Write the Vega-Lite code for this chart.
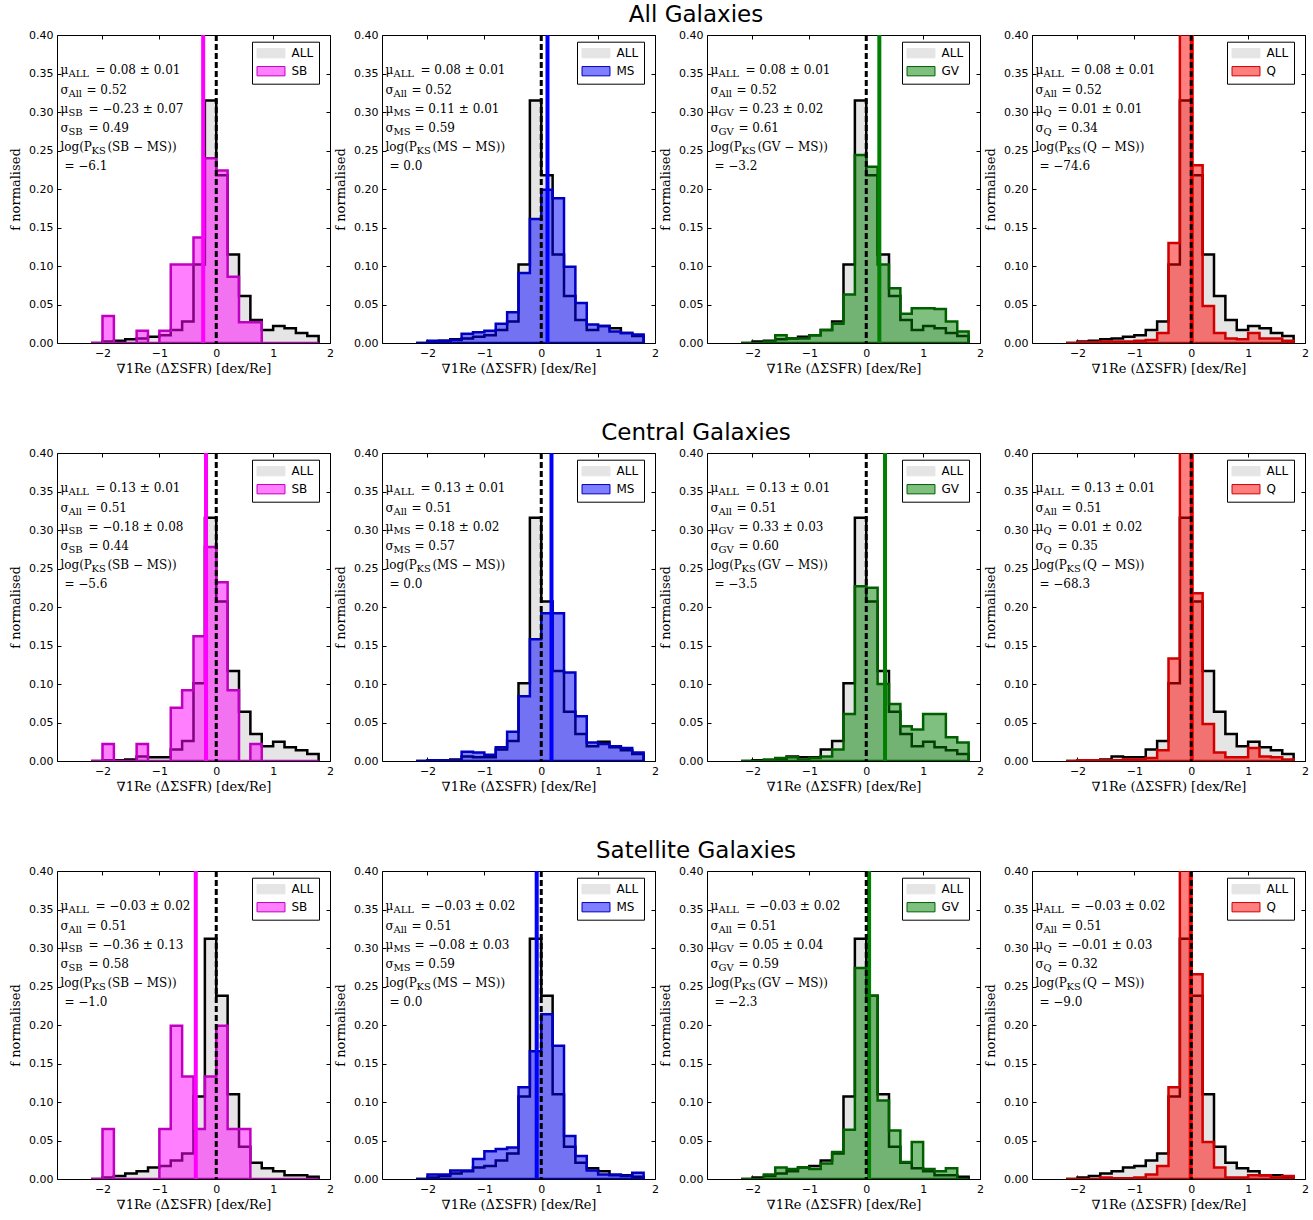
{
"$schema": "https://vega.github.io/schema/vega-lite/v6.json",
"padding": {"left": 9, "top": 3, "right": 5, "bottom": 5},
"datasets": {
"h": [
{"g":"A","s":"ALL","x":-2.2,"v":0},{"g":"A","s":"ALL","x":-2,"v":0.002},{"g":"A","s":"ALL","x":-1.8,"v":0.003},{"g":"A","s":"ALL","x":-1.6,"v":0.005},{"g":"A","s":"ALL","x":-1.4,"v":0.006},{"g":"A","s":"ALL","x":-1.2,"v":0.008},{"g":"A","s":"ALL","x":-1,"v":0.010},{"g":"A","s":"ALL","x":-0.8,"v":0.017},{"g":"A","s":"ALL","x":-0.6,"v":0.028},{"g":"A","s":"ALL","x":-0.4,"v":0.102},{"g":"A","s":"ALL","x":-0.2,"v":0.315},{"g":"A","s":"ALL","x":0,"v":0.218},{"g":"A","s":"ALL","x":0.2,"v":0.115},{"g":"A","s":"ALL","x":0.4,"v":0.061},{"g":"A","s":"ALL","x":0.6,"v":0.030},{"g":"A","s":"ALL","x":0.8,"v":0.017},{"g":"A","s":"ALL","x":1,"v":0.022},{"g":"A","s":"ALL","x":1.2,"v":0.019},{"g":"A","s":"ALL","x":1.4,"v":0.013},{"g":"A","s":"ALL","x":1.6,"v":0.009},{"g":"A","s":"ALL","x":1.8,"v":0},
{"g":"A","s":"SB","x":-2.2,"v":0},{"g":"A","s":"SB","x":-2,"v":0.035},{"g":"A","s":"SB","x":-1.8,"v":0},{"g":"A","s":"SB","x":-1.6,"v":0},{"g":"A","s":"SB","x":-1.4,"v":0.016},{"g":"A","s":"SB","x":-1.2,"v":0},{"g":"A","s":"SB","x":-1,"v":0.016},{"g":"A","s":"SB","x":-0.8,"v":0.102},{"g":"A","s":"SB","x":-0.6,"v":0.102},{"g":"A","s":"SB","x":-0.4,"v":0.137},{"g":"A","s":"SB","x":-0.2,"v":0.240},{"g":"A","s":"SB","x":0,"v":0.224},{"g":"A","s":"SB","x":0.2,"v":0.086},{"g":"A","s":"SB","x":0.4,"v":0.027},{"g":"A","s":"SB","x":0.6,"v":0.027},{"g":"A","s":"SB","x":0.8,"v":0},{"g":"A","s":"SB","x":1,"v":0},{"g":"A","s":"SB","x":1.2,"v":0},{"g":"A","s":"SB","x":1.4,"v":0},{"g":"A","s":"SB","x":1.6,"v":0},{"g":"A","s":"SB","x":1.8,"v":0},
{"g":"A","s":"MS","x":-2.2,"v":0},{"g":"A","s":"MS","x":-2,"v":0.003},{"g":"A","s":"MS","x":-1.8,"v":0.003},{"g":"A","s":"MS","x":-1.6,"v":0.004},{"g":"A","s":"MS","x":-1.4,"v":0.012},{"g":"A","s":"MS","x":-1.2,"v":0.014},{"g":"A","s":"MS","x":-1,"v":0.016},{"g":"A","s":"MS","x":-0.8,"v":0.025},{"g":"A","s":"MS","x":-0.6,"v":0.040},{"g":"A","s":"MS","x":-0.4,"v":0.091},{"g":"A","s":"MS","x":-0.2,"v":0.161},{"g":"A","s":"MS","x":0,"v":0.199},{"g":"A","s":"MS","x":0.2,"v":0.188},{"g":"A","s":"MS","x":0.4,"v":0.099},{"g":"A","s":"MS","x":0.6,"v":0.052},{"g":"A","s":"MS","x":0.8,"v":0.024},{"g":"A","s":"MS","x":1,"v":0.022},{"g":"A","s":"MS","x":1.2,"v":0.015},{"g":"A","s":"MS","x":1.4,"v":0.013},{"g":"A","s":"MS","x":1.6,"v":0.011},{"g":"A","s":"MS","x":1.8,"v":0},
{"g":"A","s":"GV","x":-2.2,"v":0},{"g":"A","s":"GV","x":-2,"v":0},{"g":"A","s":"GV","x":-1.8,"v":0.002},{"g":"A","s":"GV","x":-1.6,"v":0.010},{"g":"A","s":"GV","x":-1.4,"v":0.006},{"g":"A","s":"GV","x":-1.2,"v":0.006},{"g":"A","s":"GV","x":-1,"v":0.010},{"g":"A","s":"GV","x":-0.8,"v":0.017},{"g":"A","s":"GV","x":-0.6,"v":0.025},{"g":"A","s":"GV","x":-0.4,"v":0.063},{"g":"A","s":"GV","x":-0.2,"v":0.244},{"g":"A","s":"GV","x":0,"v":0.229},{"g":"A","s":"GV","x":0.2,"v":0.102},{"g":"A","s":"GV","x":0.4,"v":0.071},{"g":"A","s":"GV","x":0.6,"v":0.038},{"g":"A","s":"GV","x":0.8,"v":0.045},{"g":"A","s":"GV","x":1,"v":0.045},{"g":"A","s":"GV","x":1.2,"v":0.044},{"g":"A","s":"GV","x":1.4,"v":0.028},{"g":"A","s":"GV","x":1.6,"v":0.015},{"g":"A","s":"GV","x":1.8,"v":0},
{"g":"A","s":"Q","x":-2.2,"v":0},{"g":"A","s":"Q","x":-2,"v":0.001},{"g":"A","s":"Q","x":-1.8,"v":0.001},{"g":"A","s":"Q","x":-1.6,"v":0.002},{"g":"A","s":"Q","x":-1.4,"v":0.002},{"g":"A","s":"Q","x":-1.2,"v":0.002},{"g":"A","s":"Q","x":-1,"v":0.003},{"g":"A","s":"Q","x":-0.8,"v":0.004},{"g":"A","s":"Q","x":-0.6,"v":0.013},{"g":"A","s":"Q","x":-0.4,"v":0.130},{"g":"A","s":"Q","x":-0.2,"v":0.550},{"g":"A","s":"Q","x":0,"v":0.231},{"g":"A","s":"Q","x":0.2,"v":0.048},{"g":"A","s":"Q","x":0.4,"v":0.013},{"g":"A","s":"Q","x":0.6,"v":0.006},{"g":"A","s":"Q","x":0.8,"v":0.005},{"g":"A","s":"Q","x":1,"v":0.013},{"g":"A","s":"Q","x":1.2,"v":0.006},{"g":"A","s":"Q","x":1.4,"v":0.006},{"g":"A","s":"Q","x":1.6,"v":0.003},{"g":"A","s":"Q","x":1.8,"v":0},
{"g":"B","s":"ALL","x":-2.2,"v":0},{"g":"B","s":"ALL","x":-2,"v":0.001},{"g":"B","s":"ALL","x":-1.8,"v":0.001},{"g":"B","s":"ALL","x":-1.6,"v":0.002},{"g":"B","s":"ALL","x":-1.4,"v":0.006},{"g":"B","s":"ALL","x":-1.2,"v":0.005},{"g":"B","s":"ALL","x":-1,"v":0.005},{"g":"B","s":"ALL","x":-0.8,"v":0.015},{"g":"B","s":"ALL","x":-0.6,"v":0.026},{"g":"B","s":"ALL","x":-0.4,"v":0.101},{"g":"B","s":"ALL","x":-0.2,"v":0.316},{"g":"B","s":"ALL","x":0,"v":0.207},{"g":"B","s":"ALL","x":0.2,"v":0.117},{"g":"B","s":"ALL","x":0.4,"v":0.064},{"g":"B","s":"ALL","x":0.6,"v":0.035},{"g":"B","s":"ALL","x":0.8,"v":0.019},{"g":"B","s":"ALL","x":1,"v":0.025},{"g":"B","s":"ALL","x":1.2,"v":0.018},{"g":"B","s":"ALL","x":1.4,"v":0.014},{"g":"B","s":"ALL","x":1.6,"v":0.009},{"g":"B","s":"ALL","x":1.8,"v":0},
{"g":"B","s":"SB","x":-2.2,"v":0},{"g":"B","s":"SB","x":-2,"v":0.022},{"g":"B","s":"SB","x":-1.8,"v":0},{"g":"B","s":"SB","x":-1.6,"v":0},{"g":"B","s":"SB","x":-1.4,"v":0.022},{"g":"B","s":"SB","x":-1.2,"v":0},{"g":"B","s":"SB","x":-1,"v":0},{"g":"B","s":"SB","x":-0.8,"v":0.069},{"g":"B","s":"SB","x":-0.6,"v":0.092},{"g":"B","s":"SB","x":-0.4,"v":0.162},{"g":"B","s":"SB","x":-0.2,"v":0.278},{"g":"B","s":"SB","x":0,"v":0.232},{"g":"B","s":"SB","x":0.2,"v":0.092},{"g":"B","s":"SB","x":0.4,"v":0},{"g":"B","s":"SB","x":0.6,"v":0.022},{"g":"B","s":"SB","x":0.8,"v":0},{"g":"B","s":"SB","x":1,"v":0},{"g":"B","s":"SB","x":1.2,"v":0},{"g":"B","s":"SB","x":1.4,"v":0},{"g":"B","s":"SB","x":1.6,"v":0},{"g":"B","s":"SB","x":1.8,"v":0},
{"g":"B","s":"MS","x":-2.2,"v":0},{"g":"B","s":"MS","x":-2,"v":0.001},{"g":"B","s":"MS","x":-1.8,"v":0.001},{"g":"B","s":"MS","x":-1.6,"v":0.001},{"g":"B","s":"MS","x":-1.4,"v":0.012},{"g":"B","s":"MS","x":-1.2,"v":0.011},{"g":"B","s":"MS","x":-1,"v":0.008},{"g":"B","s":"MS","x":-0.8,"v":0.018},{"g":"B","s":"MS","x":-0.6,"v":0.038},{"g":"B","s":"MS","x":-0.4,"v":0.084},{"g":"B","s":"MS","x":-0.2,"v":0.158},{"g":"B","s":"MS","x":0,"v":0.192},{"g":"B","s":"MS","x":0.2,"v":0.192},{"g":"B","s":"MS","x":0.4,"v":0.115},{"g":"B","s":"MS","x":0.6,"v":0.058},{"g":"B","s":"MS","x":0.8,"v":0.024},{"g":"B","s":"MS","x":1,"v":0.022},{"g":"B","s":"MS","x":1.2,"v":0.019},{"g":"B","s":"MS","x":1.4,"v":0.017},{"g":"B","s":"MS","x":1.6,"v":0.011},{"g":"B","s":"MS","x":1.8,"v":0},
{"g":"B","s":"GV","x":-2.2,"v":0},{"g":"B","s":"GV","x":-2,"v":0},{"g":"B","s":"GV","x":-1.8,"v":0.002},{"g":"B","s":"GV","x":-1.6,"v":0.004},{"g":"B","s":"GV","x":-1.4,"v":0.005},{"g":"B","s":"GV","x":-1.2,"v":0.002},{"g":"B","s":"GV","x":-1,"v":0.004},{"g":"B","s":"GV","x":-0.8,"v":0.006},{"g":"B","s":"GV","x":-0.6,"v":0.015},{"g":"B","s":"GV","x":-0.4,"v":0.061},{"g":"B","s":"GV","x":-0.2,"v":0.227},{"g":"B","s":"GV","x":0,"v":0.225},{"g":"B","s":"GV","x":0.2,"v":0.100},{"g":"B","s":"GV","x":0.4,"v":0.074},{"g":"B","s":"GV","x":0.6,"v":0.045},{"g":"B","s":"GV","x":0.8,"v":0.041},{"g":"B","s":"GV","x":1,"v":0.061},{"g":"B","s":"GV","x":1.2,"v":0.061},{"g":"B","s":"GV","x":1.4,"v":0.031},{"g":"B","s":"GV","x":1.6,"v":0.024},{"g":"B","s":"GV","x":1.8,"v":0},
{"g":"B","s":"Q","x":-2.2,"v":0},{"g":"B","s":"Q","x":-2,"v":0.001},{"g":"B","s":"Q","x":-1.8,"v":0.001},{"g":"B","s":"Q","x":-1.6,"v":0.001},{"g":"B","s":"Q","x":-1.4,"v":0.001},{"g":"B","s":"Q","x":-1.2,"v":0.002},{"g":"B","s":"Q","x":-1,"v":0.002},{"g":"B","s":"Q","x":-0.8,"v":0.004},{"g":"B","s":"Q","x":-0.6,"v":0.014},{"g":"B","s":"Q","x":-0.4,"v":0.133},{"g":"B","s":"Q","x":-0.2,"v":0.520},{"g":"B","s":"Q","x":0,"v":0.218},{"g":"B","s":"Q","x":0.2,"v":0.048},{"g":"B","s":"Q","x":0.4,"v":0.011},{"g":"B","s":"Q","x":0.6,"v":0.005},{"g":"B","s":"Q","x":0.8,"v":0.005},{"g":"B","s":"Q","x":1,"v":0.017},{"g":"B","s":"Q","x":1.2,"v":0.006},{"g":"B","s":"Q","x":1.4,"v":0.005},{"g":"B","s":"Q","x":1.6,"v":0.002},{"g":"B","s":"Q","x":1.8,"v":0},
{"g":"C","s":"ALL","x":-2.2,"v":0},{"g":"C","s":"ALL","x":-2,"v":0.002},{"g":"C","s":"ALL","x":-1.8,"v":0.004},{"g":"C","s":"ALL","x":-1.6,"v":0.007},{"g":"C","s":"ALL","x":-1.4,"v":0.010},{"g":"C","s":"ALL","x":-1.2,"v":0.015},{"g":"C","s":"ALL","x":-1,"v":0.017},{"g":"C","s":"ALL","x":-0.8,"v":0.024},{"g":"C","s":"ALL","x":-0.6,"v":0.033},{"g":"C","s":"ALL","x":-0.4,"v":0.107},{"g":"C","s":"ALL","x":-0.2,"v":0.312},{"g":"C","s":"ALL","x":0,"v":0.238},{"g":"C","s":"ALL","x":0.2,"v":0.110},{"g":"C","s":"ALL","x":0.4,"v":0.042},{"g":"C","s":"ALL","x":0.6,"v":0.021},{"g":"C","s":"ALL","x":0.8,"v":0.014},{"g":"C","s":"ALL","x":1,"v":0.010},{"g":"C","s":"ALL","x":1.2,"v":0.005},{"g":"C","s":"ALL","x":1.4,"v":0.005},{"g":"C","s":"ALL","x":1.6,"v":0.003},{"g":"C","s":"ALL","x":1.8,"v":0},
{"g":"C","s":"SB","x":-2.2,"v":0},{"g":"C","s":"SB","x":-2,"v":0.065},{"g":"C","s":"SB","x":-1.8,"v":0},{"g":"C","s":"SB","x":-1.6,"v":0},{"g":"C","s":"SB","x":-1.4,"v":0},{"g":"C","s":"SB","x":-1.2,"v":0},{"g":"C","s":"SB","x":-1,"v":0.065},{"g":"C","s":"SB","x":-0.8,"v":0.199},{"g":"C","s":"SB","x":-0.6,"v":0.133},{"g":"C","s":"SB","x":-0.4,"v":0.065},{"g":"C","s":"SB","x":-0.2,"v":0.133},{"g":"C","s":"SB","x":0,"v":0.199},{"g":"C","s":"SB","x":0.2,"v":0.065},{"g":"C","s":"SB","x":0.4,"v":0.065},{"g":"C","s":"SB","x":0.6,"v":0},{"g":"C","s":"SB","x":0.8,"v":0},{"g":"C","s":"SB","x":1,"v":0},{"g":"C","s":"SB","x":1.2,"v":0},{"g":"C","s":"SB","x":1.4,"v":0},{"g":"C","s":"SB","x":1.6,"v":0},{"g":"C","s":"SB","x":1.8,"v":0},
{"g":"C","s":"MS","x":-2.2,"v":0},{"g":"C","s":"MS","x":-2,"v":0.006},{"g":"C","s":"MS","x":-1.8,"v":0.006},{"g":"C","s":"MS","x":-1.6,"v":0.011},{"g":"C","s":"MS","x":-1.4,"v":0.011},{"g":"C","s":"MS","x":-1.2,"v":0.026},{"g":"C","s":"MS","x":-1,"v":0.036},{"g":"C","s":"MS","x":-0.8,"v":0.039},{"g":"C","s":"MS","x":-0.6,"v":0.041},{"g":"C","s":"MS","x":-0.4,"v":0.119},{"g":"C","s":"MS","x":-0.2,"v":0.166},{"g":"C","s":"MS","x":0,"v":0.214},{"g":"C","s":"MS","x":0.2,"v":0.173},{"g":"C","s":"MS","x":0.4,"v":0.056},{"g":"C","s":"MS","x":0.6,"v":0.030},{"g":"C","s":"MS","x":0.8,"v":0.011},{"g":"C","s":"MS","x":1,"v":0.006},{"g":"C","s":"MS","x":1.2,"v":0.006},{"g":"C","s":"MS","x":1.4,"v":0.004},{"g":"C","s":"MS","x":1.6,"v":0.008},{"g":"C","s":"MS","x":1.8,"v":0},
{"g":"C","s":"GV","x":-2.2,"v":0},{"g":"C","s":"GV","x":-2,"v":0},{"g":"C","s":"GV","x":-1.8,"v":0.006},{"g":"C","s":"GV","x":-1.6,"v":0.015},{"g":"C","s":"GV","x":-1.4,"v":0.013},{"g":"C","s":"GV","x":-1.2,"v":0.015},{"g":"C","s":"GV","x":-1,"v":0.013},{"g":"C","s":"GV","x":-0.8,"v":0.020},{"g":"C","s":"GV","x":-0.6,"v":0.035},{"g":"C","s":"GV","x":-0.4,"v":0.064},{"g":"C","s":"GV","x":-0.2,"v":0.274},{"g":"C","s":"GV","x":0,"v":0.238},{"g":"C","s":"GV","x":0.2,"v":0.102},{"g":"C","s":"GV","x":0.4,"v":0.063},{"g":"C","s":"GV","x":0.6,"v":0.022},{"g":"C","s":"GV","x":0.8,"v":0.048},{"g":"C","s":"GV","x":1,"v":0.013},{"g":"C","s":"GV","x":1.2,"v":0.010},{"g":"C","s":"GV","x":1.4,"v":0.014},{"g":"C","s":"GV","x":1.6,"v":0},{"g":"C","s":"GV","x":1.8,"v":0},
{"g":"C","s":"Q","x":-2.2,"v":0},{"g":"C","s":"Q","x":-2,"v":0},{"g":"C","s":"Q","x":-1.8,"v":0},{"g":"C","s":"Q","x":-1.6,"v":0.002},{"g":"C","s":"Q","x":-1.4,"v":0.001},{"g":"C","s":"Q","x":-1.2,"v":0.001},{"g":"C","s":"Q","x":-1,"v":0.002},{"g":"C","s":"Q","x":-0.8,"v":0.006},{"g":"C","s":"Q","x":-0.6,"v":0.017},{"g":"C","s":"Q","x":-0.4,"v":0.119},{"g":"C","s":"Q","x":-0.2,"v":0.550},{"g":"C","s":"Q","x":0,"v":0.266},{"g":"C","s":"Q","x":0.2,"v":0.048},{"g":"C","s":"Q","x":0.4,"v":0.015},{"g":"C","s":"Q","x":0.6,"v":0.002},{"g":"C","s":"Q","x":0.8,"v":0.002},{"g":"C","s":"Q","x":1,"v":0.005},{"g":"C","s":"Q","x":1.2,"v":0.005},{"g":"C","s":"Q","x":1.4,"v":0.002},{"g":"C","s":"Q","x":1.6,"v":0.004},{"g":"C","s":"Q","x":1.8,"v":0}
],
"m": [
{"g":"A","s":"SB","m":-0.23},{"g":"A","s":"MS","m":0.11},{"g":"A","s":"GV","m":0.23},{"g":"A","s":"Q","m":0.01},
{"g":"B","s":"SB","m":-0.18},{"g":"B","s":"MS","m":0.18},{"g":"B","s":"GV","m":0.33},{"g":"B","s":"Q","m":0.01},
{"g":"C","s":"SB","m":-0.36},{"g":"C","s":"MS","m":-0.08},{"g":"C","s":"GV","m":0.05},{"g":"C","s":"Q","m":-0.01}
],
"t": [
{"c":"p","k":0,"txt":"μ"},{"c":"p","k":1,"txt":"σ"},{"c":"p","k":2,"txt":"μ"},{"c":"p","k":3,"txt":"σ"},{"c":"p","k":4,"txt":"log(P"},
{"c":"q","k":4,"txt":"KS"},
{"c":"s0","k":0,"txt":"ALL"},{"c":"s0","k":1,"txt":"All"},
{"c":"s","s":"SB","k":2,"txt":"SB"},{"c":"s","s":"SB","k":3,"txt":"SB"},
{"c":"s","s":"MS","k":2,"txt":"MS"},{"c":"s","s":"MS","k":3,"txt":"MS"},
{"c":"s","s":"GV","k":2,"txt":"GV"},{"c":"s","s":"GV","k":3,"txt":"GV"},
{"c":"s","s":"Q","k":2,"txt":"Q"},{"c":"s","s":"Q","k":3,"txt":"Q"},
{"c":"a","g":"A","k":0,"txt":"= 0.08 ± 0.01"},{"c":"b","g":"A","k":1,"txt":"= 0.52"},
{"c":"a","g":"B","k":0,"txt":"= 0.13 ± 0.01"},{"c":"b","g":"B","k":1,"txt":"= 0.51"},
{"c":"a","g":"C","k":0,"txt":"= −0.03 ± 0.02"},{"c":"b","g":"C","k":1,"txt":"= 0.51"},
{"c":"f","s":"SB","k":4,"txt":"(SB − MS))"},{"c":"f","s":"MS","k":4,"txt":"(MS − MS))"},{"c":"f","s":"GV","k":4,"txt":"(GV − MS))"},{"c":"f","s":"Q","k":4,"txt":"(Q − MS))"},
{"c":"d","g":"A","s":"SB","k":2,"txt":"= −0.23 ± 0.07"},{"c":"d","g":"A","s":"SB","k":3,"txt":"= 0.49"},{"c":"e","g":"A","s":"SB","k":5,"txt":"= −6.1"},
{"c":"d","g":"A","s":"MS","k":2,"txt":"= 0.11 ± 0.01"},{"c":"d","g":"A","s":"MS","k":3,"txt":"= 0.59"},{"c":"e","g":"A","s":"MS","k":5,"txt":"= 0.0"},
{"c":"d","g":"A","s":"GV","k":2,"txt":"= 0.23 ± 0.02"},{"c":"d","g":"A","s":"GV","k":3,"txt":"= 0.61"},{"c":"e","g":"A","s":"GV","k":5,"txt":"= −3.2"},
{"c":"d","g":"A","s":"Q","k":2,"txt":"= 0.01 ± 0.01"},{"c":"d","g":"A","s":"Q","k":3,"txt":"= 0.34"},{"c":"e","g":"A","s":"Q","k":5,"txt":"= −74.6"},
{"c":"d","g":"B","s":"SB","k":2,"txt":"= −0.18 ± 0.08"},{"c":"d","g":"B","s":"SB","k":3,"txt":"= 0.44"},{"c":"e","g":"B","s":"SB","k":5,"txt":"= −5.6"},
{"c":"d","g":"B","s":"MS","k":2,"txt":"= 0.18 ± 0.02"},{"c":"d","g":"B","s":"MS","k":3,"txt":"= 0.57"},{"c":"e","g":"B","s":"MS","k":5,"txt":"= 0.0"},
{"c":"d","g":"B","s":"GV","k":2,"txt":"= 0.33 ± 0.03"},{"c":"d","g":"B","s":"GV","k":3,"txt":"= 0.60"},{"c":"e","g":"B","s":"GV","k":5,"txt":"= −3.5"},
{"c":"d","g":"B","s":"Q","k":2,"txt":"= 0.01 ± 0.02"},{"c":"d","g":"B","s":"Q","k":3,"txt":"= 0.35"},{"c":"e","g":"B","s":"Q","k":5,"txt":"= −68.3"},
{"c":"d","g":"C","s":"SB","k":2,"txt":"= −0.36 ± 0.13"},{"c":"d","g":"C","s":"SB","k":3,"txt":"= 0.58"},{"c":"e","g":"C","s":"SB","k":5,"txt":"= −1.0"},
{"c":"d","g":"C","s":"MS","k":2,"txt":"= −0.08 ± 0.03"},{"c":"d","g":"C","s":"MS","k":3,"txt":"= 0.59"},{"c":"e","g":"C","s":"MS","k":5,"txt":"= 0.0"},
{"c":"d","g":"C","s":"GV","k":2,"txt":"= 0.05 ± 0.04"},{"c":"d","g":"C","s":"GV","k":3,"txt":"= 0.59"},{"c":"e","g":"C","s":"GV","k":5,"txt":"= −2.3"},
{"c":"d","g":"C","s":"Q","k":2,"txt":"= −0.01 ± 0.03"},{"c":"d","g":"C","s":"Q","k":3,"txt":"= 0.32"},{"c":"e","g":"C","s":"Q","k":5,"txt":"= −9.0"}
]
},
"vconcat": [
{"title": {"text": "All Galaxies", "anchor": "middle", "frame": "bounds", "offset": 2, "dx": 37},
 "spacing": 52, "bounds": "flush",
 "resolve": {"scale": {"fill": "independent", "stroke": "independent"}, "legend": {"fill": "independent", "stroke": "independent"}},
 "hconcat": [
{"width":273,"height":308,"resolve":{"axis":{"x":"independent","y":"independent"},"scale":{"y":"independent"}},"layer":[
{"data":{"name":"h"},"transform":[{"filter":"datum.g==='A'&&datum.s==='ALL'"}],"mark":{"type":"area","interpolate":"step-after","clip":true,"strokeWidth":2},"encoding":{"x":{"field":"x","type":"quantitative","scale":{"domain":[-2.8,2],"nice":false,"zero":false},"axis":{"orient":"bottom","values":[-2,-1,0,1,2],"title":"∇1Re (ΔΣSFR) [dex/Re]"}},"y":{"field":"v","type":"quantitative","stack":null,"scale":{"domain":[0,0.4],"nice":false},"axis":{"orient":"left","values":[0,0.05,0.1,0.15,0.2,0.25,0.3,0.35,0.4],"format":".2f","title":"f normalised"}},"fill":{"field":"s","type":"nominal","scale":{"domain":["ALL","SB"],"range":["#e5e5e5","rgba(255,0,255,0.5)"]},"legend":{"title":null,"orient":"none","legendX":195,"legendY":6.7,"symbolType":"M-2.33,-0.775H2.33V0.775H-2.33Z"}},"stroke":{"field":"s","type":"nominal","scale":{"domain":["ALL","SB"],"range":["#e5e5e5","#c000c0"]},"legend":{"title":null,"orient":"none","legendX":195,"legendY":6.7,"symbolType":"M-2.33,-0.775H2.33V0.775H-2.33Z"}}}},
{"data":{"name":"h"},"transform":[{"filter":"datum.g==='A'&&datum.s==='ALL'"}],"mark":{"type":"line","interpolate":"step-after","clip":true,"color":"black","strokeWidth":2.5},"encoding":{"x":{"field":"x","type":"quantitative","axis":null},"y":{"field":"v","type":"quantitative","scale":{"domain":[0,0.4],"nice":false},"axis":{"orient":"right","values":[0,0.05,0.1,0.15,0.2,0.25,0.3,0.35,0.4],"labels":false,"title":null}}}},
{"data":{"name":"h"},"transform":[{"filter":"datum.g==='A'&&datum.s==='SB'"}],"mark":{"type":"area","interpolate":"step-after","clip":true,"strokeWidth":2.5},"encoding":{"x":{"field":"x","type":"quantitative","axis":null},"y":{"field":"v","type":"quantitative","stack":null,"scale":{"domain":[0,0.4],"nice":false},"axis":null},"fill":{"field":"s","type":"nominal"},"stroke":{"field":"s","type":"nominal"}}},
{"data":{"name":"m"},"transform":[{"filter":"datum.g==='A'&&datum.s==='SB'"}],"mark":{"type":"rule","color":"#ff00ff","strokeWidth":4},"encoding":{"x":{"field":"m","type":"quantitative","axis":null}}},
{"data":{"name":"m"},"transform":[{"filter":"datum.g==='A'&&datum.s==='SB'"}],"mark":{"type":"rule","color":"black","strokeWidth":3,"strokeDash":[6,3]},"encoding":{"x":{"datum":0,"axis":{"orient":"top","values":[-2,-1,0,1,2],"labels":false,"title":null}}}},
{"data":{"name":"t"},"transform":[{"filter":"datum.c==='p'"}],"mark":{"type":"text"},"encoding":{"x":{"datum":-2.74,"axis":null},"y":{"field":"k","type":"quantitative","scale":{"domain":[-2.047,13.995],"reverse":true,"nice":false,"zero":false},"axis":null},"text":{"field":"txt"}}},
{"data":{"name":"t"},"transform":[{"filter":"datum.c==='s0'||(datum.c==='s'&&datum.s==='SB')"}],"mark":{"type":"text","fontSize":10,"dx":8,"dy":3},"encoding":{"x":{"datum":-2.74,"axis":null},"y":{"field":"k","type":"quantitative","scale":{"domain":[-2.047,13.995],"reverse":true,"nice":false,"zero":false},"axis":null},"text":{"field":"txt"}}},
{"data":{"name":"t"},"transform":[{"filter":"datum.c==='q'"}],"mark":{"type":"text","fontSize":10,"dx":31,"dy":3},"encoding":{"x":{"datum":-2.74,"axis":null},"y":{"field":"k","type":"quantitative","scale":{"domain":[-2.047,13.995],"reverse":true,"nice":false,"zero":false},"axis":null},"text":{"field":"txt"}}},
{"data":{"name":"t"},"transform":[{"filter":"datum.c==='a'&&datum.g==='A'"}],"mark":{"type":"text","dx":35},"encoding":{"x":{"datum":-2.74,"axis":null},"y":{"field":"k","type":"quantitative","scale":{"domain":[-2.047,13.995],"reverse":true,"nice":false,"zero":false},"axis":null},"text":{"field":"txt"}}},
{"data":{"name":"t"},"transform":[{"filter":"datum.c==='b'&&datum.g==='A'"}],"mark":{"type":"text","dx":26},"encoding":{"x":{"datum":-2.74,"axis":null},"y":{"field":"k","type":"quantitative","scale":{"domain":[-2.047,13.995],"reverse":true,"nice":false,"zero":false},"axis":null},"text":{"field":"txt"}}},
{"data":{"name":"t"},"transform":[{"filter":"datum.c==='d'&&datum.g==='A'&&datum.s==='SB'"}],"mark":{"type":"text","dx":28},"encoding":{"x":{"datum":-2.74,"axis":null},"y":{"field":"k","type":"quantitative","scale":{"domain":[-2.047,13.995],"reverse":true,"nice":false,"zero":false},"axis":null},"text":{"field":"txt"}}},
{"data":{"name":"t"},"transform":[{"filter":"datum.c==='f'&&datum.s==='SB'"}],"mark":{"type":"text","dx":47},"encoding":{"x":{"datum":-2.74,"axis":null},"y":{"field":"k","type":"quantitative","scale":{"domain":[-2.047,13.995],"reverse":true,"nice":false,"zero":false},"axis":null},"text":{"field":"txt"}}},
{"data":{"name":"t"},"transform":[{"filter":"datum.c==='e'&&datum.g==='A'&&datum.s==='SB'"}],"mark":{"type":"text","dx":4},"encoding":{"x":{"datum":-2.74,"axis":null},"y":{"field":"k","type":"quantitative","scale":{"domain":[-2.047,13.995],"reverse":true,"nice":false,"zero":false},"axis":null},"text":{"field":"txt"}}}
]},
{"width":273,"height":308,"resolve":{"axis":{"x":"independent","y":"independent"},"scale":{"y":"independent"}},"layer":[
{"data":{"name":"h"},"transform":[{"filter":"datum.g==='A'&&datum.s==='ALL'"}],"mark":{"type":"area","interpolate":"step-after","clip":true,"strokeWidth":2},"encoding":{"x":{"field":"x","type":"quantitative","scale":{"domain":[-2.8,2],"nice":false,"zero":false},"axis":{"orient":"bottom","values":[-2,-1,0,1,2],"title":"∇1Re (ΔΣSFR) [dex/Re]"}},"y":{"field":"v","type":"quantitative","stack":null,"scale":{"domain":[0,0.4],"nice":false},"axis":{"orient":"left","values":[0,0.05,0.1,0.15,0.2,0.25,0.3,0.35,0.4],"format":".2f","title":"f normalised"}},"fill":{"field":"s","type":"nominal","scale":{"domain":["ALL","MS"],"range":["#e5e5e5","rgba(0,0,255,0.5)"]},"legend":{"title":null,"orient":"none","legendX":195,"legendY":6.7,"symbolType":"M-2.33,-0.775H2.33V0.775H-2.33Z"}},"stroke":{"field":"s","type":"nominal","scale":{"domain":["ALL","MS"],"range":["#e5e5e5","#0000c0"]},"legend":{"title":null,"orient":"none","legendX":195,"legendY":6.7,"symbolType":"M-2.33,-0.775H2.33V0.775H-2.33Z"}}}},
{"data":{"name":"h"},"transform":[{"filter":"datum.g==='A'&&datum.s==='ALL'"}],"mark":{"type":"line","interpolate":"step-after","clip":true,"color":"black","strokeWidth":2.5},"encoding":{"x":{"field":"x","type":"quantitative","axis":null},"y":{"field":"v","type":"quantitative","scale":{"domain":[0,0.4],"nice":false},"axis":{"orient":"right","values":[0,0.05,0.1,0.15,0.2,0.25,0.3,0.35,0.4],"labels":false,"title":null}}}},
{"data":{"name":"h"},"transform":[{"filter":"datum.g==='A'&&datum.s==='MS'"}],"mark":{"type":"area","interpolate":"step-after","clip":true,"strokeWidth":2.5},"encoding":{"x":{"field":"x","type":"quantitative","axis":null},"y":{"field":"v","type":"quantitative","stack":null,"scale":{"domain":[0,0.4],"nice":false},"axis":null},"fill":{"field":"s","type":"nominal"},"stroke":{"field":"s","type":"nominal"}}},
{"data":{"name":"m"},"transform":[{"filter":"datum.g==='A'&&datum.s==='MS'"}],"mark":{"type":"rule","color":"#0000ff","strokeWidth":4},"encoding":{"x":{"field":"m","type":"quantitative","axis":null}}},
{"data":{"name":"m"},"transform":[{"filter":"datum.g==='A'&&datum.s==='MS'"}],"mark":{"type":"rule","color":"black","strokeWidth":3,"strokeDash":[6,3]},"encoding":{"x":{"datum":0,"axis":{"orient":"top","values":[-2,-1,0,1,2],"labels":false,"title":null}}}},
{"data":{"name":"t"},"transform":[{"filter":"datum.c==='p'"}],"mark":{"type":"text"},"encoding":{"x":{"datum":-2.74,"axis":null},"y":{"field":"k","type":"quantitative","scale":{"domain":[-2.047,13.995],"reverse":true,"nice":false,"zero":false},"axis":null},"text":{"field":"txt"}}},
{"data":{"name":"t"},"transform":[{"filter":"datum.c==='s0'||(datum.c==='s'&&datum.s==='MS')"}],"mark":{"type":"text","fontSize":10,"dx":8,"dy":3},"encoding":{"x":{"datum":-2.74,"axis":null},"y":{"field":"k","type":"quantitative","scale":{"domain":[-2.047,13.995],"reverse":true,"nice":false,"zero":false},"axis":null},"text":{"field":"txt"}}},
{"data":{"name":"t"},"transform":[{"filter":"datum.c==='q'"}],"mark":{"type":"text","fontSize":10,"dx":31,"dy":3},"encoding":{"x":{"datum":-2.74,"axis":null},"y":{"field":"k","type":"quantitative","scale":{"domain":[-2.047,13.995],"reverse":true,"nice":false,"zero":false},"axis":null},"text":{"field":"txt"}}},
{"data":{"name":"t"},"transform":[{"filter":"datum.c==='a'&&datum.g==='A'"}],"mark":{"type":"text","dx":35},"encoding":{"x":{"datum":-2.74,"axis":null},"y":{"field":"k","type":"quantitative","scale":{"domain":[-2.047,13.995],"reverse":true,"nice":false,"zero":false},"axis":null},"text":{"field":"txt"}}},
{"data":{"name":"t"},"transform":[{"filter":"datum.c==='b'&&datum.g==='A'"}],"mark":{"type":"text","dx":26},"encoding":{"x":{"datum":-2.74,"axis":null},"y":{"field":"k","type":"quantitative","scale":{"domain":[-2.047,13.995],"reverse":true,"nice":false,"zero":false},"axis":null},"text":{"field":"txt"}}},
{"data":{"name":"t"},"transform":[{"filter":"datum.c==='d'&&datum.g==='A'&&datum.s==='MS'"}],"mark":{"type":"text","dx":29},"encoding":{"x":{"datum":-2.74,"axis":null},"y":{"field":"k","type":"quantitative","scale":{"domain":[-2.047,13.995],"reverse":true,"nice":false,"zero":false},"axis":null},"text":{"field":"txt"}}},
{"data":{"name":"t"},"transform":[{"filter":"datum.c==='f'&&datum.s==='MS'"}],"mark":{"type":"text","dx":47},"encoding":{"x":{"datum":-2.74,"axis":null},"y":{"field":"k","type":"quantitative","scale":{"domain":[-2.047,13.995],"reverse":true,"nice":false,"zero":false},"axis":null},"text":{"field":"txt"}}},
{"data":{"name":"t"},"transform":[{"filter":"datum.c==='e'&&datum.g==='A'&&datum.s==='MS'"}],"mark":{"type":"text","dx":4},"encoding":{"x":{"datum":-2.74,"axis":null},"y":{"field":"k","type":"quantitative","scale":{"domain":[-2.047,13.995],"reverse":true,"nice":false,"zero":false},"axis":null},"text":{"field":"txt"}}}
]},
{"width":273,"height":308,"resolve":{"axis":{"x":"independent","y":"independent"},"scale":{"y":"independent"}},"layer":[
{"data":{"name":"h"},"transform":[{"filter":"datum.g==='A'&&datum.s==='ALL'"}],"mark":{"type":"area","interpolate":"step-after","clip":true,"strokeWidth":2},"encoding":{"x":{"field":"x","type":"quantitative","scale":{"domain":[-2.8,2],"nice":false,"zero":false},"axis":{"orient":"bottom","values":[-2,-1,0,1,2],"title":"∇1Re (ΔΣSFR) [dex/Re]"}},"y":{"field":"v","type":"quantitative","stack":null,"scale":{"domain":[0,0.4],"nice":false},"axis":{"orient":"left","values":[0,0.05,0.1,0.15,0.2,0.25,0.3,0.35,0.4],"format":".2f","title":"f normalised"}},"fill":{"field":"s","type":"nominal","scale":{"domain":["ALL","GV"],"range":["#e5e5e5","rgba(0,128,0,0.5)"]},"legend":{"title":null,"orient":"none","legendX":195,"legendY":6.7,"symbolType":"M-2.33,-0.775H2.33V0.775H-2.33Z"}},"stroke":{"field":"s","type":"nominal","scale":{"domain":["ALL","GV"],"range":["#e5e5e5","#006000"]},"legend":{"title":null,"orient":"none","legendX":195,"legendY":6.7,"symbolType":"M-2.33,-0.775H2.33V0.775H-2.33Z"}}}},
{"data":{"name":"h"},"transform":[{"filter":"datum.g==='A'&&datum.s==='ALL'"}],"mark":{"type":"line","interpolate":"step-after","clip":true,"color":"black","strokeWidth":2.5},"encoding":{"x":{"field":"x","type":"quantitative","axis":null},"y":{"field":"v","type":"quantitative","scale":{"domain":[0,0.4],"nice":false},"axis":{"orient":"right","values":[0,0.05,0.1,0.15,0.2,0.25,0.3,0.35,0.4],"labels":false,"title":null}}}},
{"data":{"name":"h"},"transform":[{"filter":"datum.g==='A'&&datum.s==='GV'"}],"mark":{"type":"area","interpolate":"step-after","clip":true,"strokeWidth":2.5},"encoding":{"x":{"field":"x","type":"quantitative","axis":null},"y":{"field":"v","type":"quantitative","stack":null,"scale":{"domain":[0,0.4],"nice":false},"axis":null},"fill":{"field":"s","type":"nominal"},"stroke":{"field":"s","type":"nominal"}}},
{"data":{"name":"m"},"transform":[{"filter":"datum.g==='A'&&datum.s==='GV'"}],"mark":{"type":"rule","color":"#008000","strokeWidth":4},"encoding":{"x":{"field":"m","type":"quantitative","axis":null}}},
{"data":{"name":"m"},"transform":[{"filter":"datum.g==='A'&&datum.s==='GV'"}],"mark":{"type":"rule","color":"black","strokeWidth":3,"strokeDash":[6,3]},"encoding":{"x":{"datum":0,"axis":{"orient":"top","values":[-2,-1,0,1,2],"labels":false,"title":null}}}},
{"data":{"name":"t"},"transform":[{"filter":"datum.c==='p'"}],"mark":{"type":"text"},"encoding":{"x":{"datum":-2.74,"axis":null},"y":{"field":"k","type":"quantitative","scale":{"domain":[-2.047,13.995],"reverse":true,"nice":false,"zero":false},"axis":null},"text":{"field":"txt"}}},
{"data":{"name":"t"},"transform":[{"filter":"datum.c==='s0'||(datum.c==='s'&&datum.s==='GV')"}],"mark":{"type":"text","fontSize":10,"dx":8,"dy":3},"encoding":{"x":{"datum":-2.74,"axis":null},"y":{"field":"k","type":"quantitative","scale":{"domain":[-2.047,13.995],"reverse":true,"nice":false,"zero":false},"axis":null},"text":{"field":"txt"}}},
{"data":{"name":"t"},"transform":[{"filter":"datum.c==='q'"}],"mark":{"type":"text","fontSize":10,"dx":31,"dy":3},"encoding":{"x":{"datum":-2.74,"axis":null},"y":{"field":"k","type":"quantitative","scale":{"domain":[-2.047,13.995],"reverse":true,"nice":false,"zero":false},"axis":null},"text":{"field":"txt"}}},
{"data":{"name":"t"},"transform":[{"filter":"datum.c==='a'&&datum.g==='A'"}],"mark":{"type":"text","dx":35},"encoding":{"x":{"datum":-2.74,"axis":null},"y":{"field":"k","type":"quantitative","scale":{"domain":[-2.047,13.995],"reverse":true,"nice":false,"zero":false},"axis":null},"text":{"field":"txt"}}},
{"data":{"name":"t"},"transform":[{"filter":"datum.c==='b'&&datum.g==='A'"}],"mark":{"type":"text","dx":26},"encoding":{"x":{"datum":-2.74,"axis":null},"y":{"field":"k","type":"quantitative","scale":{"domain":[-2.047,13.995],"reverse":true,"nice":false,"zero":false},"axis":null},"text":{"field":"txt"}}},
{"data":{"name":"t"},"transform":[{"filter":"datum.c==='d'&&datum.g==='A'&&datum.s==='GV'"}],"mark":{"type":"text","dx":28},"encoding":{"x":{"datum":-2.74,"axis":null},"y":{"field":"k","type":"quantitative","scale":{"domain":[-2.047,13.995],"reverse":true,"nice":false,"zero":false},"axis":null},"text":{"field":"txt"}}},
{"data":{"name":"t"},"transform":[{"filter":"datum.c==='f'&&datum.s==='GV'"}],"mark":{"type":"text","dx":47},"encoding":{"x":{"datum":-2.74,"axis":null},"y":{"field":"k","type":"quantitative","scale":{"domain":[-2.047,13.995],"reverse":true,"nice":false,"zero":false},"axis":null},"text":{"field":"txt"}}},
{"data":{"name":"t"},"transform":[{"filter":"datum.c==='e'&&datum.g==='A'&&datum.s==='GV'"}],"mark":{"type":"text","dx":4},"encoding":{"x":{"datum":-2.74,"axis":null},"y":{"field":"k","type":"quantitative","scale":{"domain":[-2.047,13.995],"reverse":true,"nice":false,"zero":false},"axis":null},"text":{"field":"txt"}}}
]},
{"width":273,"height":308,"resolve":{"axis":{"x":"independent","y":"independent"},"scale":{"y":"independent"}},"layer":[
{"data":{"name":"h"},"transform":[{"filter":"datum.g==='A'&&datum.s==='ALL'"}],"mark":{"type":"area","interpolate":"step-after","clip":true,"strokeWidth":2},"encoding":{"x":{"field":"x","type":"quantitative","scale":{"domain":[-2.8,2],"nice":false,"zero":false},"axis":{"orient":"bottom","values":[-2,-1,0,1,2],"title":"∇1Re (ΔΣSFR) [dex/Re]"}},"y":{"field":"v","type":"quantitative","stack":null,"scale":{"domain":[0,0.4],"nice":false},"axis":{"orient":"left","values":[0,0.05,0.1,0.15,0.2,0.25,0.3,0.35,0.4],"format":".2f","title":"f normalised"}},"fill":{"field":"s","type":"nominal","scale":{"domain":["ALL","Q"],"range":["#e5e5e5","rgba(255,0,0,0.5)"]},"legend":{"title":null,"orient":"none","legendX":195,"legendY":6.7,"symbolType":"M-2.33,-0.775H2.33V0.775H-2.33Z"}},"stroke":{"field":"s","type":"nominal","scale":{"domain":["ALL","Q"],"range":["#e5e5e5","#d00000"]},"legend":{"title":null,"orient":"none","legendX":195,"legendY":6.7,"symbolType":"M-2.33,-0.775H2.33V0.775H-2.33Z"}}}},
{"data":{"name":"h"},"transform":[{"filter":"datum.g==='A'&&datum.s==='ALL'"}],"mark":{"type":"line","interpolate":"step-after","clip":true,"color":"black","strokeWidth":2.5},"encoding":{"x":{"field":"x","type":"quantitative","axis":null},"y":{"field":"v","type":"quantitative","scale":{"domain":[0,0.4],"nice":false},"axis":{"orient":"right","values":[0,0.05,0.1,0.15,0.2,0.25,0.3,0.35,0.4],"labels":false,"title":null}}}},
{"data":{"name":"h"},"transform":[{"filter":"datum.g==='A'&&datum.s==='Q'"}],"mark":{"type":"area","interpolate":"step-after","clip":true,"strokeWidth":2.5},"encoding":{"x":{"field":"x","type":"quantitative","axis":null},"y":{"field":"v","type":"quantitative","stack":null,"scale":{"domain":[0,0.4],"nice":false},"axis":null},"fill":{"field":"s","type":"nominal"},"stroke":{"field":"s","type":"nominal"}}},
{"data":{"name":"m"},"transform":[{"filter":"datum.g==='A'&&datum.s==='Q'"}],"mark":{"type":"rule","color":"#ff0000","strokeWidth":4},"encoding":{"x":{"field":"m","type":"quantitative","axis":null}}},
{"data":{"name":"m"},"transform":[{"filter":"datum.g==='A'&&datum.s==='Q'"}],"mark":{"type":"rule","color":"black","strokeWidth":3,"strokeDash":[6,3]},"encoding":{"x":{"datum":0,"axis":{"orient":"top","values":[-2,-1,0,1,2],"labels":false,"title":null}}}},
{"data":{"name":"t"},"transform":[{"filter":"datum.c==='p'"}],"mark":{"type":"text"},"encoding":{"x":{"datum":-2.74,"axis":null},"y":{"field":"k","type":"quantitative","scale":{"domain":[-2.047,13.995],"reverse":true,"nice":false,"zero":false},"axis":null},"text":{"field":"txt"}}},
{"data":{"name":"t"},"transform":[{"filter":"datum.c==='s0'||(datum.c==='s'&&datum.s==='Q')"}],"mark":{"type":"text","fontSize":10,"dx":8,"dy":3},"encoding":{"x":{"datum":-2.74,"axis":null},"y":{"field":"k","type":"quantitative","scale":{"domain":[-2.047,13.995],"reverse":true,"nice":false,"zero":false},"axis":null},"text":{"field":"txt"}}},
{"data":{"name":"t"},"transform":[{"filter":"datum.c==='q'"}],"mark":{"type":"text","fontSize":10,"dx":31,"dy":3},"encoding":{"x":{"datum":-2.74,"axis":null},"y":{"field":"k","type":"quantitative","scale":{"domain":[-2.047,13.995],"reverse":true,"nice":false,"zero":false},"axis":null},"text":{"field":"txt"}}},
{"data":{"name":"t"},"transform":[{"filter":"datum.c==='a'&&datum.g==='A'"}],"mark":{"type":"text","dx":35},"encoding":{"x":{"datum":-2.74,"axis":null},"y":{"field":"k","type":"quantitative","scale":{"domain":[-2.047,13.995],"reverse":true,"nice":false,"zero":false},"axis":null},"text":{"field":"txt"}}},
{"data":{"name":"t"},"transform":[{"filter":"datum.c==='b'&&datum.g==='A'"}],"mark":{"type":"text","dx":26},"encoding":{"x":{"datum":-2.74,"axis":null},"y":{"field":"k","type":"quantitative","scale":{"domain":[-2.047,13.995],"reverse":true,"nice":false,"zero":false},"axis":null},"text":{"field":"txt"}}},
{"data":{"name":"t"},"transform":[{"filter":"datum.c==='d'&&datum.g==='A'&&datum.s==='Q'"}],"mark":{"type":"text","dx":22},"encoding":{"x":{"datum":-2.74,"axis":null},"y":{"field":"k","type":"quantitative","scale":{"domain":[-2.047,13.995],"reverse":true,"nice":false,"zero":false},"axis":null},"text":{"field":"txt"}}},
{"data":{"name":"t"},"transform":[{"filter":"datum.c==='f'&&datum.s==='Q'"}],"mark":{"type":"text","dx":47},"encoding":{"x":{"datum":-2.74,"axis":null},"y":{"field":"k","type":"quantitative","scale":{"domain":[-2.047,13.995],"reverse":true,"nice":false,"zero":false},"axis":null},"text":{"field":"txt"}}},
{"data":{"name":"t"},"transform":[{"filter":"datum.c==='e'&&datum.g==='A'&&datum.s==='Q'"}],"mark":{"type":"text","dx":4},"encoding":{"x":{"datum":-2.74,"axis":null},"y":{"field":"k","type":"quantitative","scale":{"domain":[-2.047,13.995],"reverse":true,"nice":false,"zero":false},"axis":null},"text":{"field":"txt"}}}
]}
]},
{"title": {"text": "Central Galaxies", "anchor": "middle", "frame": "bounds", "offset": 2, "dx": 37},
 "spacing": 52, "bounds": "flush",
 "resolve": {"scale": {"fill": "independent", "stroke": "independent"}, "legend": {"fill": "independent", "stroke": "independent"}},
 "hconcat": [
{"width":273,"height":308,"resolve":{"axis":{"x":"independent","y":"independent"},"scale":{"y":"independent"}},"layer":[
{"data":{"name":"h"},"transform":[{"filter":"datum.g==='B'&&datum.s==='ALL'"}],"mark":{"type":"area","interpolate":"step-after","clip":true,"strokeWidth":2},"encoding":{"x":{"field":"x","type":"quantitative","scale":{"domain":[-2.8,2],"nice":false,"zero":false},"axis":{"orient":"bottom","values":[-2,-1,0,1,2],"title":"∇1Re (ΔΣSFR) [dex/Re]"}},"y":{"field":"v","type":"quantitative","stack":null,"scale":{"domain":[0,0.4],"nice":false},"axis":{"orient":"left","values":[0,0.05,0.1,0.15,0.2,0.25,0.3,0.35,0.4],"format":".2f","title":"f normalised"}},"fill":{"field":"s","type":"nominal","scale":{"domain":["ALL","SB"],"range":["#e5e5e5","rgba(255,0,255,0.5)"]},"legend":{"title":null,"orient":"none","legendX":195,"legendY":6.7,"symbolType":"M-2.33,-0.775H2.33V0.775H-2.33Z"}},"stroke":{"field":"s","type":"nominal","scale":{"domain":["ALL","SB"],"range":["#e5e5e5","#c000c0"]},"legend":{"title":null,"orient":"none","legendX":195,"legendY":6.7,"symbolType":"M-2.33,-0.775H2.33V0.775H-2.33Z"}}}},
{"data":{"name":"h"},"transform":[{"filter":"datum.g==='B'&&datum.s==='ALL'"}],"mark":{"type":"line","interpolate":"step-after","clip":true,"color":"black","strokeWidth":2.5},"encoding":{"x":{"field":"x","type":"quantitative","axis":null},"y":{"field":"v","type":"quantitative","scale":{"domain":[0,0.4],"nice":false},"axis":{"orient":"right","values":[0,0.05,0.1,0.15,0.2,0.25,0.3,0.35,0.4],"labels":false,"title":null}}}},
{"data":{"name":"h"},"transform":[{"filter":"datum.g==='B'&&datum.s==='SB'"}],"mark":{"type":"area","interpolate":"step-after","clip":true,"strokeWidth":2.5},"encoding":{"x":{"field":"x","type":"quantitative","axis":null},"y":{"field":"v","type":"quantitative","stack":null,"scale":{"domain":[0,0.4],"nice":false},"axis":null},"fill":{"field":"s","type":"nominal"},"stroke":{"field":"s","type":"nominal"}}},
{"data":{"name":"m"},"transform":[{"filter":"datum.g==='B'&&datum.s==='SB'"}],"mark":{"type":"rule","color":"#ff00ff","strokeWidth":4},"encoding":{"x":{"field":"m","type":"quantitative","axis":null}}},
{"data":{"name":"m"},"transform":[{"filter":"datum.g==='B'&&datum.s==='SB'"}],"mark":{"type":"rule","color":"black","strokeWidth":3,"strokeDash":[6,3]},"encoding":{"x":{"datum":0,"axis":{"orient":"top","values":[-2,-1,0,1,2],"labels":false,"title":null}}}},
{"data":{"name":"t"},"transform":[{"filter":"datum.c==='p'"}],"mark":{"type":"text"},"encoding":{"x":{"datum":-2.74,"axis":null},"y":{"field":"k","type":"quantitative","scale":{"domain":[-2.047,13.995],"reverse":true,"nice":false,"zero":false},"axis":null},"text":{"field":"txt"}}},
{"data":{"name":"t"},"transform":[{"filter":"datum.c==='s0'||(datum.c==='s'&&datum.s==='SB')"}],"mark":{"type":"text","fontSize":10,"dx":8,"dy":3},"encoding":{"x":{"datum":-2.74,"axis":null},"y":{"field":"k","type":"quantitative","scale":{"domain":[-2.047,13.995],"reverse":true,"nice":false,"zero":false},"axis":null},"text":{"field":"txt"}}},
{"data":{"name":"t"},"transform":[{"filter":"datum.c==='q'"}],"mark":{"type":"text","fontSize":10,"dx":31,"dy":3},"encoding":{"x":{"datum":-2.74,"axis":null},"y":{"field":"k","type":"quantitative","scale":{"domain":[-2.047,13.995],"reverse":true,"nice":false,"zero":false},"axis":null},"text":{"field":"txt"}}},
{"data":{"name":"t"},"transform":[{"filter":"datum.c==='a'&&datum.g==='B'"}],"mark":{"type":"text","dx":35},"encoding":{"x":{"datum":-2.74,"axis":null},"y":{"field":"k","type":"quantitative","scale":{"domain":[-2.047,13.995],"reverse":true,"nice":false,"zero":false},"axis":null},"text":{"field":"txt"}}},
{"data":{"name":"t"},"transform":[{"filter":"datum.c==='b'&&datum.g==='B'"}],"mark":{"type":"text","dx":26},"encoding":{"x":{"datum":-2.74,"axis":null},"y":{"field":"k","type":"quantitative","scale":{"domain":[-2.047,13.995],"reverse":true,"nice":false,"zero":false},"axis":null},"text":{"field":"txt"}}},
{"data":{"name":"t"},"transform":[{"filter":"datum.c==='d'&&datum.g==='B'&&datum.s==='SB'"}],"mark":{"type":"text","dx":28},"encoding":{"x":{"datum":-2.74,"axis":null},"y":{"field":"k","type":"quantitative","scale":{"domain":[-2.047,13.995],"reverse":true,"nice":false,"zero":false},"axis":null},"text":{"field":"txt"}}},
{"data":{"name":"t"},"transform":[{"filter":"datum.c==='f'&&datum.s==='SB'"}],"mark":{"type":"text","dx":47},"encoding":{"x":{"datum":-2.74,"axis":null},"y":{"field":"k","type":"quantitative","scale":{"domain":[-2.047,13.995],"reverse":true,"nice":false,"zero":false},"axis":null},"text":{"field":"txt"}}},
{"data":{"name":"t"},"transform":[{"filter":"datum.c==='e'&&datum.g==='B'&&datum.s==='SB'"}],"mark":{"type":"text","dx":4},"encoding":{"x":{"datum":-2.74,"axis":null},"y":{"field":"k","type":"quantitative","scale":{"domain":[-2.047,13.995],"reverse":true,"nice":false,"zero":false},"axis":null},"text":{"field":"txt"}}}
]},
{"width":273,"height":308,"resolve":{"axis":{"x":"independent","y":"independent"},"scale":{"y":"independent"}},"layer":[
{"data":{"name":"h"},"transform":[{"filter":"datum.g==='B'&&datum.s==='ALL'"}],"mark":{"type":"area","interpolate":"step-after","clip":true,"strokeWidth":2},"encoding":{"x":{"field":"x","type":"quantitative","scale":{"domain":[-2.8,2],"nice":false,"zero":false},"axis":{"orient":"bottom","values":[-2,-1,0,1,2],"title":"∇1Re (ΔΣSFR) [dex/Re]"}},"y":{"field":"v","type":"quantitative","stack":null,"scale":{"domain":[0,0.4],"nice":false},"axis":{"orient":"left","values":[0,0.05,0.1,0.15,0.2,0.25,0.3,0.35,0.4],"format":".2f","title":"f normalised"}},"fill":{"field":"s","type":"nominal","scale":{"domain":["ALL","MS"],"range":["#e5e5e5","rgba(0,0,255,0.5)"]},"legend":{"title":null,"orient":"none","legendX":195,"legendY":6.7,"symbolType":"M-2.33,-0.775H2.33V0.775H-2.33Z"}},"stroke":{"field":"s","type":"nominal","scale":{"domain":["ALL","MS"],"range":["#e5e5e5","#0000c0"]},"legend":{"title":null,"orient":"none","legendX":195,"legendY":6.7,"symbolType":"M-2.33,-0.775H2.33V0.775H-2.33Z"}}}},
{"data":{"name":"h"},"transform":[{"filter":"datum.g==='B'&&datum.s==='ALL'"}],"mark":{"type":"line","interpolate":"step-after","clip":true,"color":"black","strokeWidth":2.5},"encoding":{"x":{"field":"x","type":"quantitative","axis":null},"y":{"field":"v","type":"quantitative","scale":{"domain":[0,0.4],"nice":false},"axis":{"orient":"right","values":[0,0.05,0.1,0.15,0.2,0.25,0.3,0.35,0.4],"labels":false,"title":null}}}},
{"data":{"name":"h"},"transform":[{"filter":"datum.g==='B'&&datum.s==='MS'"}],"mark":{"type":"area","interpolate":"step-after","clip":true,"strokeWidth":2.5},"encoding":{"x":{"field":"x","type":"quantitative","axis":null},"y":{"field":"v","type":"quantitative","stack":null,"scale":{"domain":[0,0.4],"nice":false},"axis":null},"fill":{"field":"s","type":"nominal"},"stroke":{"field":"s","type":"nominal"}}},
{"data":{"name":"m"},"transform":[{"filter":"datum.g==='B'&&datum.s==='MS'"}],"mark":{"type":"rule","color":"#0000ff","strokeWidth":4},"encoding":{"x":{"field":"m","type":"quantitative","axis":null}}},
{"data":{"name":"m"},"transform":[{"filter":"datum.g==='B'&&datum.s==='MS'"}],"mark":{"type":"rule","color":"black","strokeWidth":3,"strokeDash":[6,3]},"encoding":{"x":{"datum":0,"axis":{"orient":"top","values":[-2,-1,0,1,2],"labels":false,"title":null}}}},
{"data":{"name":"t"},"transform":[{"filter":"datum.c==='p'"}],"mark":{"type":"text"},"encoding":{"x":{"datum":-2.74,"axis":null},"y":{"field":"k","type":"quantitative","scale":{"domain":[-2.047,13.995],"reverse":true,"nice":false,"zero":false},"axis":null},"text":{"field":"txt"}}},
{"data":{"name":"t"},"transform":[{"filter":"datum.c==='s0'||(datum.c==='s'&&datum.s==='MS')"}],"mark":{"type":"text","fontSize":10,"dx":8,"dy":3},"encoding":{"x":{"datum":-2.74,"axis":null},"y":{"field":"k","type":"quantitative","scale":{"domain":[-2.047,13.995],"reverse":true,"nice":false,"zero":false},"axis":null},"text":{"field":"txt"}}},
{"data":{"name":"t"},"transform":[{"filter":"datum.c==='q'"}],"mark":{"type":"text","fontSize":10,"dx":31,"dy":3},"encoding":{"x":{"datum":-2.74,"axis":null},"y":{"field":"k","type":"quantitative","scale":{"domain":[-2.047,13.995],"reverse":true,"nice":false,"zero":false},"axis":null},"text":{"field":"txt"}}},
{"data":{"name":"t"},"transform":[{"filter":"datum.c==='a'&&datum.g==='B'"}],"mark":{"type":"text","dx":35},"encoding":{"x":{"datum":-2.74,"axis":null},"y":{"field":"k","type":"quantitative","scale":{"domain":[-2.047,13.995],"reverse":true,"nice":false,"zero":false},"axis":null},"text":{"field":"txt"}}},
{"data":{"name":"t"},"transform":[{"filter":"datum.c==='b'&&datum.g==='B'"}],"mark":{"type":"text","dx":26},"encoding":{"x":{"datum":-2.74,"axis":null},"y":{"field":"k","type":"quantitative","scale":{"domain":[-2.047,13.995],"reverse":true,"nice":false,"zero":false},"axis":null},"text":{"field":"txt"}}},
{"data":{"name":"t"},"transform":[{"filter":"datum.c==='d'&&datum.g==='B'&&datum.s==='MS'"}],"mark":{"type":"text","dx":29},"encoding":{"x":{"datum":-2.74,"axis":null},"y":{"field":"k","type":"quantitative","scale":{"domain":[-2.047,13.995],"reverse":true,"nice":false,"zero":false},"axis":null},"text":{"field":"txt"}}},
{"data":{"name":"t"},"transform":[{"filter":"datum.c==='f'&&datum.s==='MS'"}],"mark":{"type":"text","dx":47},"encoding":{"x":{"datum":-2.74,"axis":null},"y":{"field":"k","type":"quantitative","scale":{"domain":[-2.047,13.995],"reverse":true,"nice":false,"zero":false},"axis":null},"text":{"field":"txt"}}},
{"data":{"name":"t"},"transform":[{"filter":"datum.c==='e'&&datum.g==='B'&&datum.s==='MS'"}],"mark":{"type":"text","dx":4},"encoding":{"x":{"datum":-2.74,"axis":null},"y":{"field":"k","type":"quantitative","scale":{"domain":[-2.047,13.995],"reverse":true,"nice":false,"zero":false},"axis":null},"text":{"field":"txt"}}}
]},
{"width":273,"height":308,"resolve":{"axis":{"x":"independent","y":"independent"},"scale":{"y":"independent"}},"layer":[
{"data":{"name":"h"},"transform":[{"filter":"datum.g==='B'&&datum.s==='ALL'"}],"mark":{"type":"area","interpolate":"step-after","clip":true,"strokeWidth":2},"encoding":{"x":{"field":"x","type":"quantitative","scale":{"domain":[-2.8,2],"nice":false,"zero":false},"axis":{"orient":"bottom","values":[-2,-1,0,1,2],"title":"∇1Re (ΔΣSFR) [dex/Re]"}},"y":{"field":"v","type":"quantitative","stack":null,"scale":{"domain":[0,0.4],"nice":false},"axis":{"orient":"left","values":[0,0.05,0.1,0.15,0.2,0.25,0.3,0.35,0.4],"format":".2f","title":"f normalised"}},"fill":{"field":"s","type":"nominal","scale":{"domain":["ALL","GV"],"range":["#e5e5e5","rgba(0,128,0,0.5)"]},"legend":{"title":null,"orient":"none","legendX":195,"legendY":6.7,"symbolType":"M-2.33,-0.775H2.33V0.775H-2.33Z"}},"stroke":{"field":"s","type":"nominal","scale":{"domain":["ALL","GV"],"range":["#e5e5e5","#006000"]},"legend":{"title":null,"orient":"none","legendX":195,"legendY":6.7,"symbolType":"M-2.33,-0.775H2.33V0.775H-2.33Z"}}}},
{"data":{"name":"h"},"transform":[{"filter":"datum.g==='B'&&datum.s==='ALL'"}],"mark":{"type":"line","interpolate":"step-after","clip":true,"color":"black","strokeWidth":2.5},"encoding":{"x":{"field":"x","type":"quantitative","axis":null},"y":{"field":"v","type":"quantitative","scale":{"domain":[0,0.4],"nice":false},"axis":{"orient":"right","values":[0,0.05,0.1,0.15,0.2,0.25,0.3,0.35,0.4],"labels":false,"title":null}}}},
{"data":{"name":"h"},"transform":[{"filter":"datum.g==='B'&&datum.s==='GV'"}],"mark":{"type":"area","interpolate":"step-after","clip":true,"strokeWidth":2.5},"encoding":{"x":{"field":"x","type":"quantitative","axis":null},"y":{"field":"v","type":"quantitative","stack":null,"scale":{"domain":[0,0.4],"nice":false},"axis":null},"fill":{"field":"s","type":"nominal"},"stroke":{"field":"s","type":"nominal"}}},
{"data":{"name":"m"},"transform":[{"filter":"datum.g==='B'&&datum.s==='GV'"}],"mark":{"type":"rule","color":"#008000","strokeWidth":4},"encoding":{"x":{"field":"m","type":"quantitative","axis":null}}},
{"data":{"name":"m"},"transform":[{"filter":"datum.g==='B'&&datum.s==='GV'"}],"mark":{"type":"rule","color":"black","strokeWidth":3,"strokeDash":[6,3]},"encoding":{"x":{"datum":0,"axis":{"orient":"top","values":[-2,-1,0,1,2],"labels":false,"title":null}}}},
{"data":{"name":"t"},"transform":[{"filter":"datum.c==='p'"}],"mark":{"type":"text"},"encoding":{"x":{"datum":-2.74,"axis":null},"y":{"field":"k","type":"quantitative","scale":{"domain":[-2.047,13.995],"reverse":true,"nice":false,"zero":false},"axis":null},"text":{"field":"txt"}}},
{"data":{"name":"t"},"transform":[{"filter":"datum.c==='s0'||(datum.c==='s'&&datum.s==='GV')"}],"mark":{"type":"text","fontSize":10,"dx":8,"dy":3},"encoding":{"x":{"datum":-2.74,"axis":null},"y":{"field":"k","type":"quantitative","scale":{"domain":[-2.047,13.995],"reverse":true,"nice":false,"zero":false},"axis":null},"text":{"field":"txt"}}},
{"data":{"name":"t"},"transform":[{"filter":"datum.c==='q'"}],"mark":{"type":"text","fontSize":10,"dx":31,"dy":3},"encoding":{"x":{"datum":-2.74,"axis":null},"y":{"field":"k","type":"quantitative","scale":{"domain":[-2.047,13.995],"reverse":true,"nice":false,"zero":false},"axis":null},"text":{"field":"txt"}}},
{"data":{"name":"t"},"transform":[{"filter":"datum.c==='a'&&datum.g==='B'"}],"mark":{"type":"text","dx":35},"encoding":{"x":{"datum":-2.74,"axis":null},"y":{"field":"k","type":"quantitative","scale":{"domain":[-2.047,13.995],"reverse":true,"nice":false,"zero":false},"axis":null},"text":{"field":"txt"}}},
{"data":{"name":"t"},"transform":[{"filter":"datum.c==='b'&&datum.g==='B'"}],"mark":{"type":"text","dx":26},"encoding":{"x":{"datum":-2.74,"axis":null},"y":{"field":"k","type":"quantitative","scale":{"domain":[-2.047,13.995],"reverse":true,"nice":false,"zero":false},"axis":null},"text":{"field":"txt"}}},
{"data":{"name":"t"},"transform":[{"filter":"datum.c==='d'&&datum.g==='B'&&datum.s==='GV'"}],"mark":{"type":"text","dx":28},"encoding":{"x":{"datum":-2.74,"axis":null},"y":{"field":"k","type":"quantitative","scale":{"domain":[-2.047,13.995],"reverse":true,"nice":false,"zero":false},"axis":null},"text":{"field":"txt"}}},
{"data":{"name":"t"},"transform":[{"filter":"datum.c==='f'&&datum.s==='GV'"}],"mark":{"type":"text","dx":47},"encoding":{"x":{"datum":-2.74,"axis":null},"y":{"field":"k","type":"quantitative","scale":{"domain":[-2.047,13.995],"reverse":true,"nice":false,"zero":false},"axis":null},"text":{"field":"txt"}}},
{"data":{"name":"t"},"transform":[{"filter":"datum.c==='e'&&datum.g==='B'&&datum.s==='GV'"}],"mark":{"type":"text","dx":4},"encoding":{"x":{"datum":-2.74,"axis":null},"y":{"field":"k","type":"quantitative","scale":{"domain":[-2.047,13.995],"reverse":true,"nice":false,"zero":false},"axis":null},"text":{"field":"txt"}}}
]},
{"width":273,"height":308,"resolve":{"axis":{"x":"independent","y":"independent"},"scale":{"y":"independent"}},"layer":[
{"data":{"name":"h"},"transform":[{"filter":"datum.g==='B'&&datum.s==='ALL'"}],"mark":{"type":"area","interpolate":"step-after","clip":true,"strokeWidth":2},"encoding":{"x":{"field":"x","type":"quantitative","scale":{"domain":[-2.8,2],"nice":false,"zero":false},"axis":{"orient":"bottom","values":[-2,-1,0,1,2],"title":"∇1Re (ΔΣSFR) [dex/Re]"}},"y":{"field":"v","type":"quantitative","stack":null,"scale":{"domain":[0,0.4],"nice":false},"axis":{"orient":"left","values":[0,0.05,0.1,0.15,0.2,0.25,0.3,0.35,0.4],"format":".2f","title":"f normalised"}},"fill":{"field":"s","type":"nominal","scale":{"domain":["ALL","Q"],"range":["#e5e5e5","rgba(255,0,0,0.5)"]},"legend":{"title":null,"orient":"none","legendX":195,"legendY":6.7,"symbolType":"M-2.33,-0.775H2.33V0.775H-2.33Z"}},"stroke":{"field":"s","type":"nominal","scale":{"domain":["ALL","Q"],"range":["#e5e5e5","#d00000"]},"legend":{"title":null,"orient":"none","legendX":195,"legendY":6.7,"symbolType":"M-2.33,-0.775H2.33V0.775H-2.33Z"}}}},
{"data":{"name":"h"},"transform":[{"filter":"datum.g==='B'&&datum.s==='ALL'"}],"mark":{"type":"line","interpolate":"step-after","clip":true,"color":"black","strokeWidth":2.5},"encoding":{"x":{"field":"x","type":"quantitative","axis":null},"y":{"field":"v","type":"quantitative","scale":{"domain":[0,0.4],"nice":false},"axis":{"orient":"right","values":[0,0.05,0.1,0.15,0.2,0.25,0.3,0.35,0.4],"labels":false,"title":null}}}},
{"data":{"name":"h"},"transform":[{"filter":"datum.g==='B'&&datum.s==='Q'"}],"mark":{"type":"area","interpolate":"step-after","clip":true,"strokeWidth":2.5},"encoding":{"x":{"field":"x","type":"quantitative","axis":null},"y":{"field":"v","type":"quantitative","stack":null,"scale":{"domain":[0,0.4],"nice":false},"axis":null},"fill":{"field":"s","type":"nominal"},"stroke":{"field":"s","type":"nominal"}}},
{"data":{"name":"m"},"transform":[{"filter":"datum.g==='B'&&datum.s==='Q'"}],"mark":{"type":"rule","color":"#ff0000","strokeWidth":4},"encoding":{"x":{"field":"m","type":"quantitative","axis":null}}},
{"data":{"name":"m"},"transform":[{"filter":"datum.g==='B'&&datum.s==='Q'"}],"mark":{"type":"rule","color":"black","strokeWidth":3,"strokeDash":[6,3]},"encoding":{"x":{"datum":0,"axis":{"orient":"top","values":[-2,-1,0,1,2],"labels":false,"title":null}}}},
{"data":{"name":"t"},"transform":[{"filter":"datum.c==='p'"}],"mark":{"type":"text"},"encoding":{"x":{"datum":-2.74,"axis":null},"y":{"field":"k","type":"quantitative","scale":{"domain":[-2.047,13.995],"reverse":true,"nice":false,"zero":false},"axis":null},"text":{"field":"txt"}}},
{"data":{"name":"t"},"transform":[{"filter":"datum.c==='s0'||(datum.c==='s'&&datum.s==='Q')"}],"mark":{"type":"text","fontSize":10,"dx":8,"dy":3},"encoding":{"x":{"datum":-2.74,"axis":null},"y":{"field":"k","type":"quantitative","scale":{"domain":[-2.047,13.995],"reverse":true,"nice":false,"zero":false},"axis":null},"text":{"field":"txt"}}},
{"data":{"name":"t"},"transform":[{"filter":"datum.c==='q'"}],"mark":{"type":"text","fontSize":10,"dx":31,"dy":3},"encoding":{"x":{"datum":-2.74,"axis":null},"y":{"field":"k","type":"quantitative","scale":{"domain":[-2.047,13.995],"reverse":true,"nice":false,"zero":false},"axis":null},"text":{"field":"txt"}}},
{"data":{"name":"t"},"transform":[{"filter":"datum.c==='a'&&datum.g==='B'"}],"mark":{"type":"text","dx":35},"encoding":{"x":{"datum":-2.74,"axis":null},"y":{"field":"k","type":"quantitative","scale":{"domain":[-2.047,13.995],"reverse":true,"nice":false,"zero":false},"axis":null},"text":{"field":"txt"}}},
{"data":{"name":"t"},"transform":[{"filter":"datum.c==='b'&&datum.g==='B'"}],"mark":{"type":"text","dx":26},"encoding":{"x":{"datum":-2.74,"axis":null},"y":{"field":"k","type":"quantitative","scale":{"domain":[-2.047,13.995],"reverse":true,"nice":false,"zero":false},"axis":null},"text":{"field":"txt"}}},
{"data":{"name":"t"},"transform":[{"filter":"datum.c==='d'&&datum.g==='B'&&datum.s==='Q'"}],"mark":{"type":"text","dx":22},"encoding":{"x":{"datum":-2.74,"axis":null},"y":{"field":"k","type":"quantitative","scale":{"domain":[-2.047,13.995],"reverse":true,"nice":false,"zero":false},"axis":null},"text":{"field":"txt"}}},
{"data":{"name":"t"},"transform":[{"filter":"datum.c==='f'&&datum.s==='Q'"}],"mark":{"type":"text","dx":47},"encoding":{"x":{"datum":-2.74,"axis":null},"y":{"field":"k","type":"quantitative","scale":{"domain":[-2.047,13.995],"reverse":true,"nice":false,"zero":false},"axis":null},"text":{"field":"txt"}}},
{"data":{"name":"t"},"transform":[{"filter":"datum.c==='e'&&datum.g==='B'&&datum.s==='Q'"}],"mark":{"type":"text","dx":4},"encoding":{"x":{"datum":-2.74,"axis":null},"y":{"field":"k","type":"quantitative","scale":{"domain":[-2.047,13.995],"reverse":true,"nice":false,"zero":false},"axis":null},"text":{"field":"txt"}}}
]}
]},
{"title": {"text": "Satellite Galaxies", "anchor": "middle", "frame": "bounds", "offset": 2, "dx": 37},
 "spacing": 52, "bounds": "flush",
 "resolve": {"scale": {"fill": "independent", "stroke": "independent"}, "legend": {"fill": "independent", "stroke": "independent"}},
 "hconcat": [
{"width":273,"height":308,"resolve":{"axis":{"x":"independent","y":"independent"},"scale":{"y":"independent"}},"layer":[
{"data":{"name":"h"},"transform":[{"filter":"datum.g==='C'&&datum.s==='ALL'"}],"mark":{"type":"area","interpolate":"step-after","clip":true,"strokeWidth":2},"encoding":{"x":{"field":"x","type":"quantitative","scale":{"domain":[-2.8,2],"nice":false,"zero":false},"axis":{"orient":"bottom","values":[-2,-1,0,1,2],"title":"∇1Re (ΔΣSFR) [dex/Re]"}},"y":{"field":"v","type":"quantitative","stack":null,"scale":{"domain":[0,0.4],"nice":false},"axis":{"orient":"left","values":[0,0.05,0.1,0.15,0.2,0.25,0.3,0.35,0.4],"format":".2f","title":"f normalised"}},"fill":{"field":"s","type":"nominal","scale":{"domain":["ALL","SB"],"range":["#e5e5e5","rgba(255,0,255,0.5)"]},"legend":{"title":null,"orient":"none","legendX":195,"legendY":6.7,"symbolType":"M-2.33,-0.775H2.33V0.775H-2.33Z"}},"stroke":{"field":"s","type":"nominal","scale":{"domain":["ALL","SB"],"range":["#e5e5e5","#c000c0"]},"legend":{"title":null,"orient":"none","legendX":195,"legendY":6.7,"symbolType":"M-2.33,-0.775H2.33V0.775H-2.33Z"}}}},
{"data":{"name":"h"},"transform":[{"filter":"datum.g==='C'&&datum.s==='ALL'"}],"mark":{"type":"line","interpolate":"step-after","clip":true,"color":"black","strokeWidth":2.5},"encoding":{"x":{"field":"x","type":"quantitative","axis":null},"y":{"field":"v","type":"quantitative","scale":{"domain":[0,0.4],"nice":false},"axis":{"orient":"right","values":[0,0.05,0.1,0.15,0.2,0.25,0.3,0.35,0.4],"labels":false,"title":null}}}},
{"data":{"name":"h"},"transform":[{"filter":"datum.g==='C'&&datum.s==='SB'"}],"mark":{"type":"area","interpolate":"step-after","clip":true,"strokeWidth":2.5},"encoding":{"x":{"field":"x","type":"quantitative","axis":null},"y":{"field":"v","type":"quantitative","stack":null,"scale":{"domain":[0,0.4],"nice":false},"axis":null},"fill":{"field":"s","type":"nominal"},"stroke":{"field":"s","type":"nominal"}}},
{"data":{"name":"m"},"transform":[{"filter":"datum.g==='C'&&datum.s==='SB'"}],"mark":{"type":"rule","color":"#ff00ff","strokeWidth":4},"encoding":{"x":{"field":"m","type":"quantitative","axis":null}}},
{"data":{"name":"m"},"transform":[{"filter":"datum.g==='C'&&datum.s==='SB'"}],"mark":{"type":"rule","color":"black","strokeWidth":3,"strokeDash":[6,3]},"encoding":{"x":{"datum":0,"axis":{"orient":"top","values":[-2,-1,0,1,2],"labels":false,"title":null}}}},
{"data":{"name":"t"},"transform":[{"filter":"datum.c==='p'"}],"mark":{"type":"text"},"encoding":{"x":{"datum":-2.74,"axis":null},"y":{"field":"k","type":"quantitative","scale":{"domain":[-2.047,13.995],"reverse":true,"nice":false,"zero":false},"axis":null},"text":{"field":"txt"}}},
{"data":{"name":"t"},"transform":[{"filter":"datum.c==='s0'||(datum.c==='s'&&datum.s==='SB')"}],"mark":{"type":"text","fontSize":10,"dx":8,"dy":3},"encoding":{"x":{"datum":-2.74,"axis":null},"y":{"field":"k","type":"quantitative","scale":{"domain":[-2.047,13.995],"reverse":true,"nice":false,"zero":false},"axis":null},"text":{"field":"txt"}}},
{"data":{"name":"t"},"transform":[{"filter":"datum.c==='q'"}],"mark":{"type":"text","fontSize":10,"dx":31,"dy":3},"encoding":{"x":{"datum":-2.74,"axis":null},"y":{"field":"k","type":"quantitative","scale":{"domain":[-2.047,13.995],"reverse":true,"nice":false,"zero":false},"axis":null},"text":{"field":"txt"}}},
{"data":{"name":"t"},"transform":[{"filter":"datum.c==='a'&&datum.g==='C'"}],"mark":{"type":"text","dx":35},"encoding":{"x":{"datum":-2.74,"axis":null},"y":{"field":"k","type":"quantitative","scale":{"domain":[-2.047,13.995],"reverse":true,"nice":false,"zero":false},"axis":null},"text":{"field":"txt"}}},
{"data":{"name":"t"},"transform":[{"filter":"datum.c==='b'&&datum.g==='C'"}],"mark":{"type":"text","dx":26},"encoding":{"x":{"datum":-2.74,"axis":null},"y":{"field":"k","type":"quantitative","scale":{"domain":[-2.047,13.995],"reverse":true,"nice":false,"zero":false},"axis":null},"text":{"field":"txt"}}},
{"data":{"name":"t"},"transform":[{"filter":"datum.c==='d'&&datum.g==='C'&&datum.s==='SB'"}],"mark":{"type":"text","dx":28},"encoding":{"x":{"datum":-2.74,"axis":null},"y":{"field":"k","type":"quantitative","scale":{"domain":[-2.047,13.995],"reverse":true,"nice":false,"zero":false},"axis":null},"text":{"field":"txt"}}},
{"data":{"name":"t"},"transform":[{"filter":"datum.c==='f'&&datum.s==='SB'"}],"mark":{"type":"text","dx":47},"encoding":{"x":{"datum":-2.74,"axis":null},"y":{"field":"k","type":"quantitative","scale":{"domain":[-2.047,13.995],"reverse":true,"nice":false,"zero":false},"axis":null},"text":{"field":"txt"}}},
{"data":{"name":"t"},"transform":[{"filter":"datum.c==='e'&&datum.g==='C'&&datum.s==='SB'"}],"mark":{"type":"text","dx":4},"encoding":{"x":{"datum":-2.74,"axis":null},"y":{"field":"k","type":"quantitative","scale":{"domain":[-2.047,13.995],"reverse":true,"nice":false,"zero":false},"axis":null},"text":{"field":"txt"}}}
]},
{"width":273,"height":308,"resolve":{"axis":{"x":"independent","y":"independent"},"scale":{"y":"independent"}},"layer":[
{"data":{"name":"h"},"transform":[{"filter":"datum.g==='C'&&datum.s==='ALL'"}],"mark":{"type":"area","interpolate":"step-after","clip":true,"strokeWidth":2},"encoding":{"x":{"field":"x","type":"quantitative","scale":{"domain":[-2.8,2],"nice":false,"zero":false},"axis":{"orient":"bottom","values":[-2,-1,0,1,2],"title":"∇1Re (ΔΣSFR) [dex/Re]"}},"y":{"field":"v","type":"quantitative","stack":null,"scale":{"domain":[0,0.4],"nice":false},"axis":{"orient":"left","values":[0,0.05,0.1,0.15,0.2,0.25,0.3,0.35,0.4],"format":".2f","title":"f normalised"}},"fill":{"field":"s","type":"nominal","scale":{"domain":["ALL","MS"],"range":["#e5e5e5","rgba(0,0,255,0.5)"]},"legend":{"title":null,"orient":"none","legendX":195,"legendY":6.7,"symbolType":"M-2.33,-0.775H2.33V0.775H-2.33Z"}},"stroke":{"field":"s","type":"nominal","scale":{"domain":["ALL","MS"],"range":["#e5e5e5","#0000c0"]},"legend":{"title":null,"orient":"none","legendX":195,"legendY":6.7,"symbolType":"M-2.33,-0.775H2.33V0.775H-2.33Z"}}}},
{"data":{"name":"h"},"transform":[{"filter":"datum.g==='C'&&datum.s==='ALL'"}],"mark":{"type":"line","interpolate":"step-after","clip":true,"color":"black","strokeWidth":2.5},"encoding":{"x":{"field":"x","type":"quantitative","axis":null},"y":{"field":"v","type":"quantitative","scale":{"domain":[0,0.4],"nice":false},"axis":{"orient":"right","values":[0,0.05,0.1,0.15,0.2,0.25,0.3,0.35,0.4],"labels":false,"title":null}}}},
{"data":{"name":"h"},"transform":[{"filter":"datum.g==='C'&&datum.s==='MS'"}],"mark":{"type":"area","interpolate":"step-after","clip":true,"strokeWidth":2.5},"encoding":{"x":{"field":"x","type":"quantitative","axis":null},"y":{"field":"v","type":"quantitative","stack":null,"scale":{"domain":[0,0.4],"nice":false},"axis":null},"fill":{"field":"s","type":"nominal"},"stroke":{"field":"s","type":"nominal"}}},
{"data":{"name":"m"},"transform":[{"filter":"datum.g==='C'&&datum.s==='MS'"}],"mark":{"type":"rule","color":"#0000ff","strokeWidth":4},"encoding":{"x":{"field":"m","type":"quantitative","axis":null}}},
{"data":{"name":"m"},"transform":[{"filter":"datum.g==='C'&&datum.s==='MS'"}],"mark":{"type":"rule","color":"black","strokeWidth":3,"strokeDash":[6,3]},"encoding":{"x":{"datum":0,"axis":{"orient":"top","values":[-2,-1,0,1,2],"labels":false,"title":null}}}},
{"data":{"name":"t"},"transform":[{"filter":"datum.c==='p'"}],"mark":{"type":"text"},"encoding":{"x":{"datum":-2.74,"axis":null},"y":{"field":"k","type":"quantitative","scale":{"domain":[-2.047,13.995],"reverse":true,"nice":false,"zero":false},"axis":null},"text":{"field":"txt"}}},
{"data":{"name":"t"},"transform":[{"filter":"datum.c==='s0'||(datum.c==='s'&&datum.s==='MS')"}],"mark":{"type":"text","fontSize":10,"dx":8,"dy":3},"encoding":{"x":{"datum":-2.74,"axis":null},"y":{"field":"k","type":"quantitative","scale":{"domain":[-2.047,13.995],"reverse":true,"nice":false,"zero":false},"axis":null},"text":{"field":"txt"}}},
{"data":{"name":"t"},"transform":[{"filter":"datum.c==='q'"}],"mark":{"type":"text","fontSize":10,"dx":31,"dy":3},"encoding":{"x":{"datum":-2.74,"axis":null},"y":{"field":"k","type":"quantitative","scale":{"domain":[-2.047,13.995],"reverse":true,"nice":false,"zero":false},"axis":null},"text":{"field":"txt"}}},
{"data":{"name":"t"},"transform":[{"filter":"datum.c==='a'&&datum.g==='C'"}],"mark":{"type":"text","dx":35},"encoding":{"x":{"datum":-2.74,"axis":null},"y":{"field":"k","type":"quantitative","scale":{"domain":[-2.047,13.995],"reverse":true,"nice":false,"zero":false},"axis":null},"text":{"field":"txt"}}},
{"data":{"name":"t"},"transform":[{"filter":"datum.c==='b'&&datum.g==='C'"}],"mark":{"type":"text","dx":26},"encoding":{"x":{"datum":-2.74,"axis":null},"y":{"field":"k","type":"quantitative","scale":{"domain":[-2.047,13.995],"reverse":true,"nice":false,"zero":false},"axis":null},"text":{"field":"txt"}}},
{"data":{"name":"t"},"transform":[{"filter":"datum.c==='d'&&datum.g==='C'&&datum.s==='MS'"}],"mark":{"type":"text","dx":29},"encoding":{"x":{"datum":-2.74,"axis":null},"y":{"field":"k","type":"quantitative","scale":{"domain":[-2.047,13.995],"reverse":true,"nice":false,"zero":false},"axis":null},"text":{"field":"txt"}}},
{"data":{"name":"t"},"transform":[{"filter":"datum.c==='f'&&datum.s==='MS'"}],"mark":{"type":"text","dx":47},"encoding":{"x":{"datum":-2.74,"axis":null},"y":{"field":"k","type":"quantitative","scale":{"domain":[-2.047,13.995],"reverse":true,"nice":false,"zero":false},"axis":null},"text":{"field":"txt"}}},
{"data":{"name":"t"},"transform":[{"filter":"datum.c==='e'&&datum.g==='C'&&datum.s==='MS'"}],"mark":{"type":"text","dx":4},"encoding":{"x":{"datum":-2.74,"axis":null},"y":{"field":"k","type":"quantitative","scale":{"domain":[-2.047,13.995],"reverse":true,"nice":false,"zero":false},"axis":null},"text":{"field":"txt"}}}
]},
{"width":273,"height":308,"resolve":{"axis":{"x":"independent","y":"independent"},"scale":{"y":"independent"}},"layer":[
{"data":{"name":"h"},"transform":[{"filter":"datum.g==='C'&&datum.s==='ALL'"}],"mark":{"type":"area","interpolate":"step-after","clip":true,"strokeWidth":2},"encoding":{"x":{"field":"x","type":"quantitative","scale":{"domain":[-2.8,2],"nice":false,"zero":false},"axis":{"orient":"bottom","values":[-2,-1,0,1,2],"title":"∇1Re (ΔΣSFR) [dex/Re]"}},"y":{"field":"v","type":"quantitative","stack":null,"scale":{"domain":[0,0.4],"nice":false},"axis":{"orient":"left","values":[0,0.05,0.1,0.15,0.2,0.25,0.3,0.35,0.4],"format":".2f","title":"f normalised"}},"fill":{"field":"s","type":"nominal","scale":{"domain":["ALL","GV"],"range":["#e5e5e5","rgba(0,128,0,0.5)"]},"legend":{"title":null,"orient":"none","legendX":195,"legendY":6.7,"symbolType":"M-2.33,-0.775H2.33V0.775H-2.33Z"}},"stroke":{"field":"s","type":"nominal","scale":{"domain":["ALL","GV"],"range":["#e5e5e5","#006000"]},"legend":{"title":null,"orient":"none","legendX":195,"legendY":6.7,"symbolType":"M-2.33,-0.775H2.33V0.775H-2.33Z"}}}},
{"data":{"name":"h"},"transform":[{"filter":"datum.g==='C'&&datum.s==='ALL'"}],"mark":{"type":"line","interpolate":"step-after","clip":true,"color":"black","strokeWidth":2.5},"encoding":{"x":{"field":"x","type":"quantitative","axis":null},"y":{"field":"v","type":"quantitative","scale":{"domain":[0,0.4],"nice":false},"axis":{"orient":"right","values":[0,0.05,0.1,0.15,0.2,0.25,0.3,0.35,0.4],"labels":false,"title":null}}}},
{"data":{"name":"h"},"transform":[{"filter":"datum.g==='C'&&datum.s==='GV'"}],"mark":{"type":"area","interpolate":"step-after","clip":true,"strokeWidth":2.5},"encoding":{"x":{"field":"x","type":"quantitative","axis":null},"y":{"field":"v","type":"quantitative","stack":null,"scale":{"domain":[0,0.4],"nice":false},"axis":null},"fill":{"field":"s","type":"nominal"},"stroke":{"field":"s","type":"nominal"}}},
{"data":{"name":"m"},"transform":[{"filter":"datum.g==='C'&&datum.s==='GV'"}],"mark":{"type":"rule","color":"#008000","strokeWidth":4},"encoding":{"x":{"field":"m","type":"quantitative","axis":null}}},
{"data":{"name":"m"},"transform":[{"filter":"datum.g==='C'&&datum.s==='GV'"}],"mark":{"type":"rule","color":"black","strokeWidth":3,"strokeDash":[6,3]},"encoding":{"x":{"datum":0,"axis":{"orient":"top","values":[-2,-1,0,1,2],"labels":false,"title":null}}}},
{"data":{"name":"t"},"transform":[{"filter":"datum.c==='p'"}],"mark":{"type":"text"},"encoding":{"x":{"datum":-2.74,"axis":null},"y":{"field":"k","type":"quantitative","scale":{"domain":[-2.047,13.995],"reverse":true,"nice":false,"zero":false},"axis":null},"text":{"field":"txt"}}},
{"data":{"name":"t"},"transform":[{"filter":"datum.c==='s0'||(datum.c==='s'&&datum.s==='GV')"}],"mark":{"type":"text","fontSize":10,"dx":8,"dy":3},"encoding":{"x":{"datum":-2.74,"axis":null},"y":{"field":"k","type":"quantitative","scale":{"domain":[-2.047,13.995],"reverse":true,"nice":false,"zero":false},"axis":null},"text":{"field":"txt"}}},
{"data":{"name":"t"},"transform":[{"filter":"datum.c==='q'"}],"mark":{"type":"text","fontSize":10,"dx":31,"dy":3},"encoding":{"x":{"datum":-2.74,"axis":null},"y":{"field":"k","type":"quantitative","scale":{"domain":[-2.047,13.995],"reverse":true,"nice":false,"zero":false},"axis":null},"text":{"field":"txt"}}},
{"data":{"name":"t"},"transform":[{"filter":"datum.c==='a'&&datum.g==='C'"}],"mark":{"type":"text","dx":35},"encoding":{"x":{"datum":-2.74,"axis":null},"y":{"field":"k","type":"quantitative","scale":{"domain":[-2.047,13.995],"reverse":true,"nice":false,"zero":false},"axis":null},"text":{"field":"txt"}}},
{"data":{"name":"t"},"transform":[{"filter":"datum.c==='b'&&datum.g==='C'"}],"mark":{"type":"text","dx":26},"encoding":{"x":{"datum":-2.74,"axis":null},"y":{"field":"k","type":"quantitative","scale":{"domain":[-2.047,13.995],"reverse":true,"nice":false,"zero":false},"axis":null},"text":{"field":"txt"}}},
{"data":{"name":"t"},"transform":[{"filter":"datum.c==='d'&&datum.g==='C'&&datum.s==='GV'"}],"mark":{"type":"text","dx":28},"encoding":{"x":{"datum":-2.74,"axis":null},"y":{"field":"k","type":"quantitative","scale":{"domain":[-2.047,13.995],"reverse":true,"nice":false,"zero":false},"axis":null},"text":{"field":"txt"}}},
{"data":{"name":"t"},"transform":[{"filter":"datum.c==='f'&&datum.s==='GV'"}],"mark":{"type":"text","dx":47},"encoding":{"x":{"datum":-2.74,"axis":null},"y":{"field":"k","type":"quantitative","scale":{"domain":[-2.047,13.995],"reverse":true,"nice":false,"zero":false},"axis":null},"text":{"field":"txt"}}},
{"data":{"name":"t"},"transform":[{"filter":"datum.c==='e'&&datum.g==='C'&&datum.s==='GV'"}],"mark":{"type":"text","dx":4},"encoding":{"x":{"datum":-2.74,"axis":null},"y":{"field":"k","type":"quantitative","scale":{"domain":[-2.047,13.995],"reverse":true,"nice":false,"zero":false},"axis":null},"text":{"field":"txt"}}}
]},
{"width":273,"height":308,"resolve":{"axis":{"x":"independent","y":"independent"},"scale":{"y":"independent"}},"layer":[
{"data":{"name":"h"},"transform":[{"filter":"datum.g==='C'&&datum.s==='ALL'"}],"mark":{"type":"area","interpolate":"step-after","clip":true,"strokeWidth":2},"encoding":{"x":{"field":"x","type":"quantitative","scale":{"domain":[-2.8,2],"nice":false,"zero":false},"axis":{"orient":"bottom","values":[-2,-1,0,1,2],"title":"∇1Re (ΔΣSFR) [dex/Re]"}},"y":{"field":"v","type":"quantitative","stack":null,"scale":{"domain":[0,0.4],"nice":false},"axis":{"orient":"left","values":[0,0.05,0.1,0.15,0.2,0.25,0.3,0.35,0.4],"format":".2f","title":"f normalised"}},"fill":{"field":"s","type":"nominal","scale":{"domain":["ALL","Q"],"range":["#e5e5e5","rgba(255,0,0,0.5)"]},"legend":{"title":null,"orient":"none","legendX":195,"legendY":6.7,"symbolType":"M-2.33,-0.775H2.33V0.775H-2.33Z"}},"stroke":{"field":"s","type":"nominal","scale":{"domain":["ALL","Q"],"range":["#e5e5e5","#d00000"]},"legend":{"title":null,"orient":"none","legendX":195,"legendY":6.7,"symbolType":"M-2.33,-0.775H2.33V0.775H-2.33Z"}}}},
{"data":{"name":"h"},"transform":[{"filter":"datum.g==='C'&&datum.s==='ALL'"}],"mark":{"type":"line","interpolate":"step-after","clip":true,"color":"black","strokeWidth":2.5},"encoding":{"x":{"field":"x","type":"quantitative","axis":null},"y":{"field":"v","type":"quantitative","scale":{"domain":[0,0.4],"nice":false},"axis":{"orient":"right","values":[0,0.05,0.1,0.15,0.2,0.25,0.3,0.35,0.4],"labels":false,"title":null}}}},
{"data":{"name":"h"},"transform":[{"filter":"datum.g==='C'&&datum.s==='Q'"}],"mark":{"type":"area","interpolate":"step-after","clip":true,"strokeWidth":2.5},"encoding":{"x":{"field":"x","type":"quantitative","axis":null},"y":{"field":"v","type":"quantitative","stack":null,"scale":{"domain":[0,0.4],"nice":false},"axis":null},"fill":{"field":"s","type":"nominal"},"stroke":{"field":"s","type":"nominal"}}},
{"data":{"name":"m"},"transform":[{"filter":"datum.g==='C'&&datum.s==='Q'"}],"mark":{"type":"rule","color":"#ff0000","strokeWidth":4},"encoding":{"x":{"field":"m","type":"quantitative","axis":null}}},
{"data":{"name":"m"},"transform":[{"filter":"datum.g==='C'&&datum.s==='Q'"}],"mark":{"type":"rule","color":"black","strokeWidth":3,"strokeDash":[6,3]},"encoding":{"x":{"datum":0,"axis":{"orient":"top","values":[-2,-1,0,1,2],"labels":false,"title":null}}}},
{"data":{"name":"t"},"transform":[{"filter":"datum.c==='p'"}],"mark":{"type":"text"},"encoding":{"x":{"datum":-2.74,"axis":null},"y":{"field":"k","type":"quantitative","scale":{"domain":[-2.047,13.995],"reverse":true,"nice":false,"zero":false},"axis":null},"text":{"field":"txt"}}},
{"data":{"name":"t"},"transform":[{"filter":"datum.c==='s0'||(datum.c==='s'&&datum.s==='Q')"}],"mark":{"type":"text","fontSize":10,"dx":8,"dy":3},"encoding":{"x":{"datum":-2.74,"axis":null},"y":{"field":"k","type":"quantitative","scale":{"domain":[-2.047,13.995],"reverse":true,"nice":false,"zero":false},"axis":null},"text":{"field":"txt"}}},
{"data":{"name":"t"},"transform":[{"filter":"datum.c==='q'"}],"mark":{"type":"text","fontSize":10,"dx":31,"dy":3},"encoding":{"x":{"datum":-2.74,"axis":null},"y":{"field":"k","type":"quantitative","scale":{"domain":[-2.047,13.995],"reverse":true,"nice":false,"zero":false},"axis":null},"text":{"field":"txt"}}},
{"data":{"name":"t"},"transform":[{"filter":"datum.c==='a'&&datum.g==='C'"}],"mark":{"type":"text","dx":35},"encoding":{"x":{"datum":-2.74,"axis":null},"y":{"field":"k","type":"quantitative","scale":{"domain":[-2.047,13.995],"reverse":true,"nice":false,"zero":false},"axis":null},"text":{"field":"txt"}}},
{"data":{"name":"t"},"transform":[{"filter":"datum.c==='b'&&datum.g==='C'"}],"mark":{"type":"text","dx":26},"encoding":{"x":{"datum":-2.74,"axis":null},"y":{"field":"k","type":"quantitative","scale":{"domain":[-2.047,13.995],"reverse":true,"nice":false,"zero":false},"axis":null},"text":{"field":"txt"}}},
{"data":{"name":"t"},"transform":[{"filter":"datum.c==='d'&&datum.g==='C'&&datum.s==='Q'"}],"mark":{"type":"text","dx":22},"encoding":{"x":{"datum":-2.74,"axis":null},"y":{"field":"k","type":"quantitative","scale":{"domain":[-2.047,13.995],"reverse":true,"nice":false,"zero":false},"axis":null},"text":{"field":"txt"}}},
{"data":{"name":"t"},"transform":[{"filter":"datum.c==='f'&&datum.s==='Q'"}],"mark":{"type":"text","dx":47},"encoding":{"x":{"datum":-2.74,"axis":null},"y":{"field":"k","type":"quantitative","scale":{"domain":[-2.047,13.995],"reverse":true,"nice":false,"zero":false},"axis":null},"text":{"field":"txt"}}},
{"data":{"name":"t"},"transform":[{"filter":"datum.c==='e'&&datum.g==='C'&&datum.s==='Q'"}],"mark":{"type":"text","dx":4},"encoding":{"x":{"datum":-2.74,"axis":null},"y":{"field":"k","type":"quantitative","scale":{"domain":[-2.047,13.995],"reverse":true,"nice":false,"zero":false},"axis":null},"text":{"field":"txt"}}}
]}
]}
],
"spacing": 45,
"resolve": {"scale": {"fill": "independent", "stroke": "independent"}, "legend": {"fill": "independent", "stroke": "independent"}},
"config": {
 "font": "DejaVu Sans",
 "view": {"stroke": "black", "strokeWidth": 1},
 "axis": {"grid": false, "domain": false, "tickSize": -4, "tickColor": "black", "tickWidth": 1, "labelColor": "black", "labelFont": "DejaVu Sans", "labelFontSize": 11, "labelFlush": false, "labelOverlap": false, "labelPadding": 8, "titleFont": "DejaVu Serif", "titleFontWeight": "normal", "titleColor": "black", "titleFontSize": 13, "titlePadding": 4},
 "axisY": {"titlePadding": 6},
 "legend": {"strokeColor": "black", "fillColor": "white", "padding": 5, "cornerRadius": 0, "labelFont": "DejaVu Sans", "labelFontSize": 12, "labelColor": "black", "rowPadding": 3, "symbolSize": 144, "symbolOffset": 7.5, "labelOffset": 14, "symbolStrokeWidth": 1},
 "text": {"font": "DejaVu Serif", "fontSize": 12, "align": "left", "baseline": "alphabetic", "color": "black"},
 "title": {"font": "DejaVu Sans", "fontSize": 23, "fontWeight": "normal", "color": "black"}
}
}
